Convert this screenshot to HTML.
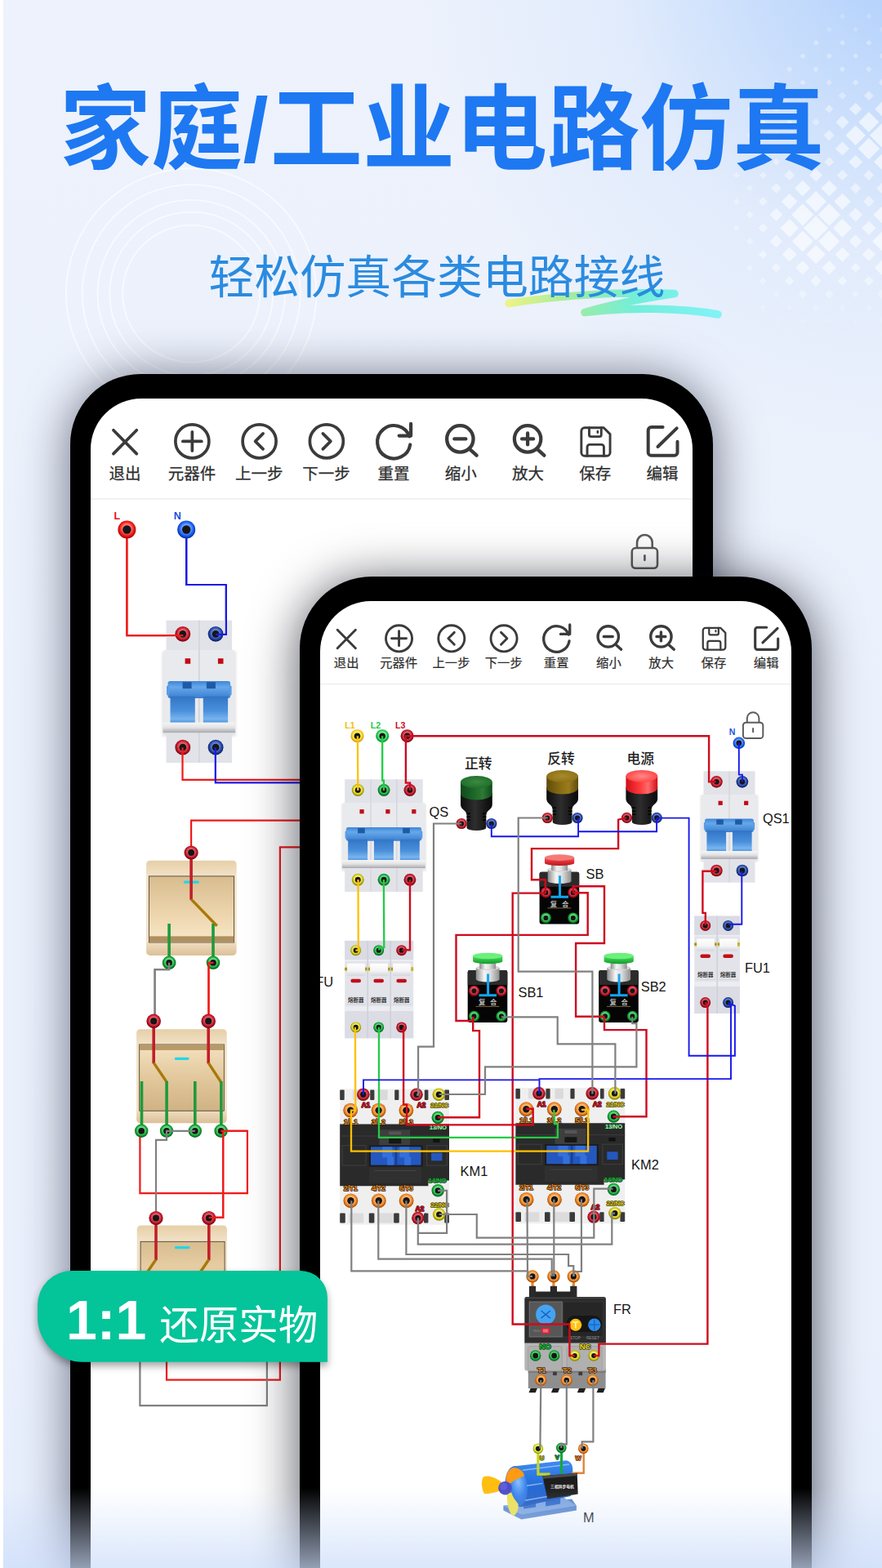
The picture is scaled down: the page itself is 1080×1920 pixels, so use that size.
<!DOCTYPE html><html lang="zh"><head><meta charset="utf-8"><title>circuit</title><style>
html,body{margin:0;padding:0}
html{width:1080px;height:1920px;overflow:hidden}
body{width:1080px;height:1920px;overflow:hidden;position:relative;font-family:"Liberation Sans",sans-serif;background:#edf2fc}
.abs{position:absolute}
#wrap{position:absolute;left:0;top:0;width:1080px;height:1920px;overflow:hidden;contain:paint}
#bg{left:0;top:0;width:1080px;height:1920px;
 background:
  radial-gradient(ellipse 600px 600px at 1110px -50px, rgba(174,206,252,1) 0%, rgba(192,217,252,.82) 30%, rgba(214,229,252,.5) 60%, rgba(237,242,252,0) 100%),
  linear-gradient(180deg,#edf2fc 0%,#ebf1fc 45%,#eaf0fc 85%,#e6eefc 100%);}
.phone{background:#000;}
#p1{left:86.1px;top:458.4px;width:787px;height:1600px;border-radius:86px;box-shadow:0 4px 56px 3px rgba(38,40,62,.6)}
#p2{left:367px;top:706.4px;width:627px;height:1400px;border-radius:88px;box-shadow:0 6px 60px 1px rgba(6,8,20,.68)}
.screen{background:#fff;overflow:hidden}
#s1{left:25px;top:30px;width:736.9px;height:1540px;border-radius:62px}
#s2{left:24.9px;top:30px;width:577.2px;height:1340px;border-radius:62px}
#fade{left:0;top:1822px;width:1080px;height:98px;background:linear-gradient(180deg,rgba(205,221,250,0) 0%,rgba(205,221,250,.72) 100%)}
#strip{left:0;top:0;width:4px;height:1920px;background:#fff}
svg{position:absolute;left:0;top:0;overflow:visible}
</style></head><body><div id="wrap">
<div id="bg" class="abs"></div>
<svg width="1080" height="1920" viewBox="0 0 1080 1920"><g fill="none" stroke="#fff" stroke-opacity="0.6" stroke-width="1.9"><circle cx="234.2" cy="359.6" r="84"/><circle cx="234.2" cy="359.6" r="100"/><circle cx="234.2" cy="359.6" r="114.7"/><circle cx="234.2" cy="359.6" r="133.5"/><circle cx="234.2" cy="359.6" r="153.3"/></g><g fill="#fff"><path d="M1031.5 16.4L1035.1 20.0L1031.5 23.6L1027.9 20.0Z" fill-opacity="0.20"/><path d="M1063.9 16.4L1067.5 20.0L1063.9 23.6L1060.3 20.0Z" fill-opacity="0.20"/><path d="M1015.3 32.6L1018.9 36.2L1015.3 39.8L1011.7 36.2Z" fill-opacity="0.20"/><path d="M1047.7 32.6L1051.3 36.2L1047.7 39.8L1044.1 36.2Z" fill-opacity="0.20"/><path d="M1080.1 32.6L1083.7 36.2L1080.1 39.8L1076.5 36.2Z" fill-opacity="0.20"/><path d="M999.1 48.8L1002.7 52.4L999.1 56.0L995.5 52.4Z" fill-opacity="0.33"/><path d="M1031.5 48.8L1035.1 52.4L1031.5 56.0L1027.9 52.4Z" fill-opacity="0.33"/><path d="M1063.9 48.8L1067.5 52.4L1063.9 56.0L1060.3 52.4Z" fill-opacity="0.33"/><path d="M982.9 65.0L986.5 68.6L982.9 72.2L979.3 68.6Z" fill-opacity="0.33"/><path d="M1015.3 65.0L1018.9 68.6L1015.3 72.2L1011.7 68.6Z" fill-opacity="0.34"/><path d="M1047.7 65.0L1051.3 68.6L1047.7 72.2L1044.1 68.6Z" fill-opacity="0.34"/><path d="M1080.1 65.0L1083.7 68.6L1080.1 72.2L1076.4 68.6Z" fill-opacity="0.34"/><path d="M966.7 81.2L970.3 84.8L966.7 88.4L963.1 84.8Z" fill-opacity="0.33"/><path d="M999.1 81.2L1002.7 84.8L999.1 88.4L995.5 84.8Z" fill-opacity="0.34"/><path d="M1031.5 81.1L1035.1 84.8L1031.5 88.5L1027.8 84.8Z" fill-opacity="0.34"/><path d="M1063.9 81.1L1067.6 84.8L1063.9 88.5L1060.1 84.8Z" fill-opacity="0.34"/><path d="M950.5 97.4L954.1 101.0L950.5 104.6L946.9 101.0Z" fill-opacity="0.33"/><path d="M982.9 97.4L986.5 101.0L982.9 104.6L979.2 101.0Z" fill-opacity="0.34"/><path d="M1015.3 97.2L1019.1 101.0L1015.3 104.8L1011.5 101.0Z" fill-opacity="0.34"/><path d="M1047.7 96.9L1051.8 101.0L1047.7 105.1L1043.5 101.0Z" fill-opacity="0.35"/><path d="M1080.1 96.7L1084.4 101.0L1080.1 105.3L1075.8 101.0Z" fill-opacity="0.36"/><path d="M934.3 113.6L937.9 117.2L934.3 120.8L930.7 117.2Z" fill-opacity="0.33"/><path d="M966.7 113.6L970.3 117.2L966.7 120.8L963.0 117.2Z" fill-opacity="0.34"/><path d="M999.1 113.3L1002.9 117.2L999.1 121.1L995.2 117.2Z" fill-opacity="0.34"/><path d="M1031.5 112.5L1036.2 117.2L1031.5 121.9L1026.7 117.2Z" fill-opacity="0.37"/><path d="M1063.9 111.4L1069.7 117.2L1063.9 123.0L1058.1 117.2Z" fill-opacity="0.45"/><path d="M918.1 129.8L921.7 133.4L918.1 137.0L914.5 133.4Z" fill-opacity="0.33"/><path d="M950.5 129.8L954.1 133.4L950.5 137.0L946.8 133.4Z" fill-opacity="0.34"/><path d="M982.9 129.6L986.7 133.4L982.9 137.2L979.0 133.4Z" fill-opacity="0.34"/><path d="M1015.3 128.3L1020.3 133.4L1015.3 138.5L1010.2 133.4Z" fill-opacity="0.42"/><path d="M1047.7 125.7L1055.4 133.4L1047.7 141.1L1039.9 133.4Z" fill-opacity="0.52"/><path d="M1080.1 124.4L1089.1 133.4L1080.1 142.4L1071.1 133.4Z" fill-opacity="0.56"/><path d="M934.3 146.0L937.9 149.6L934.3 153.2L930.6 149.6Z" fill-opacity="0.34"/><path d="M966.7 145.9L970.4 149.6L966.7 153.3L962.9 149.6Z" fill-opacity="0.34"/><path d="M999.1 144.9L1003.8 149.6L999.1 154.3L994.4 149.6Z" fill-opacity="0.37"/><path d="M1031.5 141.4L1039.7 149.6L1031.5 157.8L1023.3 149.6Z" fill-opacity="0.53"/><path d="M1063.9 137.1L1076.4 149.6L1063.9 162.1L1051.4 149.6Z" fill-opacity="0.62"/><path d="M918.1 162.2L921.7 165.8L918.1 169.4L914.4 165.8Z" fill-opacity="0.34"/><path d="M950.5 162.0L954.3 165.8L950.5 169.6L946.7 165.8Z" fill-opacity="0.34"/><path d="M982.9 161.7L987.0 165.8L982.9 169.9L978.8 165.8Z" fill-opacity="0.35"/><path d="M1015.3 159.1L1021.9 165.8L1015.3 172.5L1008.6 165.8Z" fill-opacity="0.48"/><path d="M1047.7 153.5L1060.0 165.8L1047.7 178.1L1035.4 165.8Z" fill-opacity="0.62"/><path d="M1080.1 150.8L1095.0 165.8L1080.1 180.8L1065.1 165.8Z" fill-opacity="0.62"/><path d="M934.3 178.2L938.1 182.0L934.3 185.8L930.4 182.0Z" fill-opacity="0.34"/><path d="M966.7 177.6L971.1 182.0L966.7 186.4L962.3 182.0Z" fill-opacity="0.36"/><path d="M999.1 177.2L1003.9 182.0L999.1 186.8L994.3 182.0Z" fill-opacity="0.37"/><path d="M1031.5 173.4L1040.1 182.0L1031.5 190.6L1022.8 182.0Z" fill-opacity="0.55"/><path d="M1063.9 168.7L1077.2 182.0L1063.9 195.3L1050.6 182.0Z" fill-opacity="0.62"/><path d="M918.1 194.4L921.9 198.2L918.1 202.0L914.3 198.2Z" fill-opacity="0.34"/><path d="M950.5 193.6L955.1 198.2L950.5 202.8L945.9 198.2Z" fill-opacity="0.37"/><path d="M982.9 192.4L988.7 198.2L982.9 204.0L977.0 198.2Z" fill-opacity="0.45"/><path d="M1015.3 192.3L1021.1 198.2L1015.3 204.1L1009.4 198.2Z" fill-opacity="0.45"/><path d="M1047.7 189.7L1056.2 198.2L1047.7 206.7L1039.1 198.2Z" fill-opacity="0.54"/><path d="M1080.1 188.2L1090.1 198.2L1080.1 208.2L1070.0 198.2Z" fill-opacity="0.60"/><path d="M901.9 210.7L905.6 214.4L901.9 218.1L898.1 214.4Z" fill-opacity="0.34"/><path d="M934.3 209.9L938.8 214.4L934.3 218.9L929.8 214.4Z" fill-opacity="0.36"/><path d="M966.7 207.9L973.2 214.4L966.7 220.9L960.1 214.4Z" fill-opacity="0.47"/><path d="M999.1 206.4L1007.1 214.4L999.1 222.4L991.0 214.4Z" fill-opacity="0.53"/><path d="M1031.5 207.7L1038.1 214.4L1031.5 221.1L1024.8 214.4Z" fill-opacity="0.48"/><path d="M1063.9 207.9L1070.3 214.4L1063.9 220.9L1057.4 214.4Z" fill-opacity="0.47"/><path d="M918.1 226.4L922.2 230.6L918.1 234.8L913.9 230.6Z" fill-opacity="0.35"/><path d="M950.5 224.2L956.8 230.6L950.5 237.0L944.1 230.6Z" fill-opacity="0.47"/><path d="M982.9 220.8L992.6 230.6L982.9 240.4L973.1 230.6Z" fill-opacity="0.59"/><path d="M1015.3 220.7L1025.2 230.6L1015.3 240.5L1005.4 230.6Z" fill-opacity="0.59"/><path d="M1047.7 224.0L1054.2 230.6L1047.7 237.2L1041.1 230.6Z" fill-opacity="0.48"/><path d="M1080.1 223.8L1086.8 230.6L1080.1 237.4L1073.3 230.6Z" fill-opacity="0.48"/><path d="M901.9 242.9L905.7 246.8L901.9 250.7L898.0 246.8Z" fill-opacity="0.34"/><path d="M934.3 241.3L939.8 246.8L934.3 252.3L928.8 246.8Z" fill-opacity="0.44"/><path d="M966.7 237.0L976.5 246.8L966.7 256.6L956.9 246.8Z" fill-opacity="0.59"/><path d="M999.1 233.9L1012.0 246.8L999.1 259.7L986.1 246.8Z" fill-opacity="0.62"/><path d="M1031.5 236.7L1041.6 246.8L1031.5 256.9L1021.4 246.8Z" fill-opacity="0.60"/><path d="M1063.9 240.1L1070.6 246.8L1063.9 253.5L1057.1 246.8Z" fill-opacity="0.48"/><path d="M918.1 258.5L922.6 263.0L918.1 267.5L913.5 263.0Z" fill-opacity="0.36"/><path d="M950.5 254.9L958.5 263.0L950.5 271.1L942.4 263.0Z" fill-opacity="0.53"/><path d="M982.9 249.5L996.4 263.0L982.9 276.5L969.3 263.0Z" fill-opacity="0.62"/><path d="M1015.3 249.2L1029.0 263.0L1015.3 276.8L1001.5 263.0Z" fill-opacity="0.62"/><path d="M1047.7 254.6L1056.1 263.0L1047.7 271.4L1039.3 263.0Z" fill-opacity="0.54"/><path d="M1080.1 252.5L1090.5 263.0L1080.1 273.5L1069.6 263.0Z" fill-opacity="0.61"/><path d="M901.9 275.3L905.8 279.2L901.9 283.1L897.9 279.2Z" fill-opacity="0.35"/><path d="M934.3 273.3L940.2 279.2L934.3 285.1L928.4 279.2Z" fill-opacity="0.45"/><path d="M966.7 268.0L977.9 279.2L966.7 290.4L955.5 279.2Z" fill-opacity="0.62"/><path d="M999.1 264.2L1014.1 279.2L999.1 294.2L984.0 279.2Z" fill-opacity="0.62"/><path d="M1031.5 267.7L1043.0 279.2L1031.5 290.7L1019.9 279.2Z" fill-opacity="0.62"/><path d="M1063.9 270.5L1072.6 279.2L1063.9 287.9L1055.2 279.2Z" fill-opacity="0.55"/><path d="M918.1 290.9L922.5 295.4L918.1 299.9L913.6 295.4Z" fill-opacity="0.36"/><path d="M950.5 287.6L958.2 295.4L950.5 303.2L942.7 295.4Z" fill-opacity="0.52"/><path d="M982.9 282.5L995.7 295.4L982.9 308.3L970.0 295.4Z" fill-opacity="0.62"/><path d="M1015.3 282.3L1028.3 295.4L1015.3 308.5L1002.2 295.4Z" fill-opacity="0.62"/><path d="M1047.7 287.3L1055.7 295.4L1047.7 303.5L1039.6 295.4Z" fill-opacity="0.53"/><path d="M1080.1 283.5L1092.0 295.4L1080.1 307.3L1068.1 295.4Z" fill-opacity="0.62"/><path d="M934.3 306.4L939.5 311.6L934.3 316.8L929.0 311.6Z" fill-opacity="0.43"/><path d="M966.7 302.6L975.7 311.6L966.7 320.6L957.7 311.6Z" fill-opacity="0.56"/><path d="M999.1 299.9L1010.8 311.6L999.1 323.3L987.4 311.6Z" fill-opacity="0.62"/><path d="M1031.5 302.4L1040.7 311.6L1031.5 320.8L1022.2 311.6Z" fill-opacity="0.57"/><path d="M1063.9 303.4L1072.1 311.6L1063.9 319.8L1055.7 311.6Z" fill-opacity="0.53"/><path d="M918.1 323.7L922.1 327.8L918.1 331.9L914.0 327.8Z" fill-opacity="0.35"/><path d="M950.5 322.0L956.3 327.8L950.5 333.6L944.6 327.8Z" fill-opacity="0.45"/><path d="M982.9 319.2L991.5 327.8L982.9 336.4L974.3 327.8Z" fill-opacity="0.55"/><path d="M1015.3 319.1L1024.0 327.8L1015.3 336.5L1006.6 327.8Z" fill-opacity="0.55"/><path d="M1047.7 321.8L1053.7 327.8L1047.7 333.8L1041.7 327.8Z" fill-opacity="0.46"/><path d="M1080.1 318.6L1089.3 327.8L1080.1 337.0L1070.8 327.8Z" fill-opacity="0.57"/><path d="M934.3 339.7L938.5 344.0L934.3 348.3L930.0 344.0Z" fill-opacity="0.34"/><path d="M966.7 338.2L972.5 344.0L966.7 349.8L960.9 344.0Z" fill-opacity="0.43"/><path d="M999.1 337.1L1006.0 344.0L999.1 350.9L992.1 344.0Z" fill-opacity="0.46"/><path d="M1031.5 338.1L1037.4 344.0L1031.5 349.9L1025.6 344.0Z" fill-opacity="0.43"/><path d="M1063.9 338.1L1069.8 344.0L1063.9 349.9L1057.9 344.0Z" fill-opacity="0.43"/><path d="M950.5 355.9L954.8 360.2L950.5 364.5L946.2 360.2Z" fill-opacity="0.27"/><path d="M982.9 355.0L988.0 360.2L982.9 365.4L977.7 360.2Z" fill-opacity="0.32"/><path d="M1015.3 355.0L1020.5 360.2L1015.3 365.4L1010.1 360.2Z" fill-opacity="0.32"/><path d="M1047.7 355.8L1052.0 360.2L1047.7 364.6L1043.3 360.2Z" fill-opacity="0.27"/><path d="M1080.1 354.5L1085.8 360.2L1080.1 365.9L1074.3 360.2Z" fill-opacity="0.33"/><path d="M934.3 372.6L938.0 376.4L934.3 380.2L930.5 376.4Z" fill-opacity="0.19"/><path d="M966.7 372.3L970.8 376.4L966.7 380.5L962.5 376.4Z" fill-opacity="0.19"/><path d="M999.1 372.0L1003.5 376.4L999.1 380.8L994.7 376.4Z" fill-opacity="0.20"/><path d="M1031.5 372.3L1035.6 376.4L1031.5 380.5L1027.3 376.4Z" fill-opacity="0.19"/><path d="M1063.9 372.1L1068.1 376.4L1063.9 380.7L1059.6 376.4Z" fill-opacity="0.19"/><path d="M950.5 388.9L954.2 392.6L950.5 396.3L946.7 392.6Z" fill-opacity="0.12"/><path d="M982.9 388.7L986.8 392.6L982.9 396.5L979.0 392.6Z" fill-opacity="0.12"/><path d="M1015.3 388.7L1019.2 392.6L1015.3 396.5L1011.4 392.6Z" fill-opacity="0.12"/><path d="M1047.7 388.9L1051.4 392.6L1047.7 396.3L1043.9 392.6Z" fill-opacity="0.12"/><path d="M1080.1 388.5L1084.1 392.6L1080.1 396.7L1076.0 392.6Z" fill-opacity="0.12"/><path d="M966.7 405.1L970.3 408.8L966.7 412.5L963.0 408.8Z" fill-opacity="0.05"/><path d="M999.1 405.1L1002.8 408.8L999.1 412.5L995.4 408.8Z" fill-opacity="0.05"/><path d="M1031.5 405.1L1035.1 408.8L1031.5 412.5L1027.8 408.8Z" fill-opacity="0.05"/><path d="M1063.9 405.1L1067.6 408.8L1063.9 412.5L1060.2 408.8Z" fill-opacity="0.05"/></g><defs><linearGradient id="sw" gradientUnits="userSpaceOnUse" x1="620" x2="885" y1="0" y2="0"><stop offset="0" stop-color="#eef47c"/><stop offset="0.3" stop-color="#9cec9c"/><stop offset="0.6" stop-color="#6ceed8"/><stop offset="1" stop-color="#7df3f8"/></linearGradient></defs>
<path d="M623 371.5 C690 361 765 357 826 359.5 C790 365 750 372 716 382.5 C770 376 835 377 879 385" stroke="url(#sw)" stroke-width="9.5" stroke-linecap="round" stroke-linejoin="round" fill="none" opacity="0.95"/><text x="73" y="198" font-size="112" font-weight="bold" fill="#1d78f2" font-family="'Liberation Sans','Noto Sans CJK SC',sans-serif">家庭</text><text x="297.5" y="198" font-size="112" font-weight="bold" fill="#1d78f2" font-family="'Liberation Sans','Noto Sans CJK SC',sans-serif">/</text><text x="330.7" y="198.4" font-size="113.2" font-weight="bold" fill="#1d78f2" font-family="'Liberation Sans','Noto Sans CJK SC',sans-serif">工业电路仿真</text><text x="255.6" y="358.6" font-size="55.9" fill="#2a8be0" font-family="'Liberation Sans','Noto Sans CJK SC',sans-serif">轻松仿真各类电路接线</text></svg>
<div id="p1" class="abs phone"><div id="s1" class="abs screen">
<svg width="737" height="1440" viewBox="111.1 488.4 737 1440"><g fill="none" stroke="#3b3b3b" stroke-width="3.7" stroke-linecap="round" stroke-linejoin="round"><g transform="translate(153.20,540.80) scale(1.0)"><path d="M-14.2 -13.6L14.2 15.2M14.2 -13.6L-14.2 15.2"/></g><g transform="translate(235.45,540.80) scale(1.0)"><circle r="20.5"/><path d="M-11.5 0H11.5M0 -11.5V11.5"/></g><g transform="translate(317.70,540.80) scale(1.0)"><circle r="20.5"/><path d="M4.5 -9.5L-5 0L4.5 9.5"/></g><g transform="translate(399.95,540.80) scale(1.0)"><circle r="20.5"/><path d="M-4.5 -9.5L5 0L-4.5 9.5"/></g><g transform="translate(482.20,540.80) scale(1.0)"><g stroke-width="4.2"><path d="M19.18 -6.01A20.2 20.2 0 1 0 20.15 4.06"/><path d="M21 -21.5V-6.8H6.6"/></g></g><g transform="translate(564.45,540.80) scale(1.0)"><g stroke-width="4.3"><circle cx="-1" cy="-3" r="16.2"/><path d="M-8 -3H6M11.5 10.2L19.3 17.2"/></g></g><g transform="translate(646.70,540.80) scale(1.0)"><g stroke-width="4.3"><circle cx="-0.5" cy="-3" r="16.2"/><path d="M-7.5 -3H6.5M-0.5 -10V4M12 10.2L19.8 17.2"/></g></g><g transform="translate(728.95,540.80) scale(1.0)"><g stroke-width="2.9"><path d="M-17 -12.6a4 4 0 0 1 4 -4H10.4L18.2 -8.8V13.8a4 4 0 0 1 -4 4H-13a4 4 0 0 1 -4 -4Z"/><path d="M-7.4 -16.6V-8.2a2.4 2.4 0 0 0 2.4 2.4H5a2.4 2.4 0 0 0 2.4 -2.4V-16.6M-9.8 17.8V7a3 3 0 0 1 3 -3H7.6a3 3 0 0 1 3 3V17.8"/><path d="M3 -12.4V-10.6" stroke-width="2.6"/></g></g><g transform="translate(811.20,540.80) scale(1.0)"><g stroke-width="4"><path d="M0.5 -17.3H-13.6a3.8 3.8 0 0 0 -3.8 3.8V13.6a3.8 3.8 0 0 0 3.8 3.8H14.6a3.8 3.8 0 0 0 3.8 -3.8V0.4"/><path d="M-5.6 6.6L17.6 -16"/></g></g></g><g font-size="19.5" fill="#2e2e2e" stroke="#2e2e2e" stroke-width="0.25" font-family="'Liberation Sans','Noto Sans CJK SC',sans-serif"><text x="133.5" y="587.1">退出</text><text x="205.81" y="587.1">元器件</text><text x="288.06" y="587.1">上一步</text><text x="370.31" y="587.1">下一步</text><text x="462.5" y="587.1">重置</text><text x="544.75" y="587.1">缩小</text><text x="627" y="587.1">放大</text><text x="709.25" y="587.1">保存</text><text x="791.5" y="587.1">编辑</text></g><rect x="111" y="610.6" width="740" height="1.3" fill="#ececec"/><defs><radialGradient id="t_red" cx=".5" cy=".45" r=".5"><stop offset=".48" stop-color="#ff7a70"/><stop offset=".78" stop-color="#f41a1a"/><stop offset="1" stop-color="#b80808"/></radialGradient><radialGradient id="t_dred" cx=".5" cy=".45" r=".5"><stop offset=".48" stop-color="#e8606c"/><stop offset=".78" stop-color="#c4182a"/><stop offset="1" stop-color="#7e0814"/></radialGradient><radialGradient id="t_blue" cx=".5" cy=".45" r=".5"><stop offset=".48" stop-color="#6aa0ff"/><stop offset=".78" stop-color="#1c60f4"/><stop offset="1" stop-color="#0a38b0"/></radialGradient><radialGradient id="t_dblue" cx=".5" cy=".45" r=".5"><stop offset=".48" stop-color="#6484d0"/><stop offset=".78" stop-color="#2444a8"/><stop offset="1" stop-color="#0e2468"/></radialGradient><radialGradient id="t_green" cx=".5" cy=".45" r=".5"><stop offset=".48" stop-color="#6fe08a"/><stop offset=".78" stop-color="#14a838"/><stop offset="1" stop-color="#086820"/></radialGradient><radialGradient id="t_yellow" cx=".5" cy=".45" r=".5"><stop offset=".48" stop-color="#f8f27a"/><stop offset=".78" stop-color="#d6cb16"/><stop offset="1" stop-color="#8e8600"/></radialGradient><radialGradient id="t_orange" cx=".5" cy=".45" r=".5"><stop offset=".48" stop-color="#ffbe78"/><stop offset=".78" stop-color="#f08424"/><stop offset="1" stop-color="#a85208"/></radialGradient><radialGradient id="t_lyellow" cx=".5" cy=".45" r=".5"><stop offset=".48" stop-color="#fff27a"/><stop offset=".78" stop-color="#ffd21c"/><stop offset="1" stop-color="#c89a00"/></radialGradient><radialGradient id="t_lgreen" cx=".5" cy=".45" r=".5"><stop offset=".48" stop-color="#8ff0a0"/><stop offset=".78" stop-color="#22d050"/><stop offset="1" stop-color="#0a9030"/></radialGradient><radialGradient id="t_ylg" cx=".5" cy=".45" r=".5"><stop offset=".48" stop-color="#f6fa8a"/><stop offset=".78" stop-color="#d4e01e"/><stop offset="1" stop-color="#8e9a04"/></radialGradient><linearGradient id="hb" x1="0" x2="0" y1="0" y2="1"><stop offset="0" stop-color="#3f86d8"/><stop offset=".35" stop-color="#66a8ea"/><stop offset="1" stop-color="#3a7fd0"/></linearGradient><linearGradient id="hl" x1="0" x2="0" y1="0" y2="1"><stop offset="0" stop-color="#3275c6"/><stop offset=".55" stop-color="#4a90dc"/><stop offset=".85" stop-color="#78b4ee"/><stop offset="1" stop-color="#4f94de"/></linearGradient><linearGradient id="ledge" x1="0" x2="0" y1="0" y2="1"><stop offset="0" stop-color="#f6f6f6"/><stop offset=".5" stop-color="#e2e2e4"/><stop offset="1" stop-color="#a8a8ac"/></linearGradient><linearGradient id="swp" x1="0" x2="0" y1="0" y2="1"><stop offset="0" stop-color="#d8bc8e"/><stop offset=".55" stop-color="#ecd4ac"/><stop offset="1" stop-color="#f8e8c8"/></linearGradient><linearGradient id="swp2" x1="0" x2="0" y1="0" y2="1"><stop offset="0" stop-color="#f4e2c0"/><stop offset=".5" stop-color="#e2c89c"/><stop offset="1" stop-color="#d0b284"/></linearGradient><linearGradient id="swo" x1="0" x2="0" y1="0" y2="1"><stop offset="0" stop-color="#e6cfa8"/><stop offset=".15" stop-color="#f1e0c4"/><stop offset=".85" stop-color="#f1e0c4"/><stop offset="1" stop-color="#dcc098"/></linearGradient><filter id="b1" x="-20%" y="-20%" width="140%" height="140%"><feGaussianBlur stdDeviation="1.6"/></filter></defs><path d="M155.5 649.0L155.5 778.6L224.4 778.6" fill="none" stroke="#f01a1a" stroke-width="2.2" stroke-linejoin="miter" /><path d="M228.3 649.0L228.3 716.4L277.0 716.4L277.0 777.2L264.4 777.2" fill="none" stroke="#1a1ae6" stroke-width="2.2" stroke-linejoin="miter" /><g transform="translate(203.60,760.00) scale(1.0)"><rect x="-5" y="38" width="90.6" height="104" fill="#000" opacity=".10" filter="url(#b1)"/><rect x="0" y="0" width="80.6" height="37" fill="#e2e3e8"/><rect x="0" y="137" width="80.6" height="37.4" fill="#e2e3e8"/><rect x="-3" y="36.6" width="86.6" height="101" fill="#e9eaee"/><rect x="39.5" y="0" width="1.6" height="174.4" fill="#d2d3d9"/><rect x="23.1" y="46.6" width="6.6" height="6.6" fill="#c40a14"/><rect x="63.4" y="46.6" width="6.6" height="6.6" fill="#c40a14"/><rect x="2" y="74.4" width="76.6" height="21" rx="3" fill="url(#hb)"/><rect x="0.5" y="80" width="3" height="12" rx="1.5" fill="#5a9ce4"/><rect x="77.1" y="80" width="3" height="12" rx="1.5" fill="#5a9ce4"/><rect x="5.0" y="93" width="30.3" height="32.5" fill="url(#hl)"/><rect x="45.3" y="93" width="30.3" height="32.5" fill="url(#hl)"/><rect x="20.1" y="75.6" width="11" height="8" fill="#1f5aa8"/><rect x="49.4" y="75.6" width="11" height="8" fill="#1f5aa8"/><rect x="-4" y="125" width="88.6" height="12.6" fill="url(#ledge)"/><circle cx="20.3" cy="16.7" r="9.4" fill="url(#t_dred)"/><circle cx="20.3" cy="16.7" r="4.4" fill="#161616"/><circle cx="20.3" cy="155.6" r="9.4" fill="url(#t_dred)"/><circle cx="20.3" cy="155.6" r="4.4" fill="#161616"/><circle cx="60.6" cy="16.7" r="9.4" fill="url(#t_dblue)"/><circle cx="60.6" cy="16.7" r="4.4" fill="#161616"/><circle cx="60.6" cy="155.6" r="9.4" fill="url(#t_dblue)"/><circle cx="60.6" cy="155.6" r="4.4" fill="#161616"/></g><path d="M155.5 649.0L155.5 778.6L224.4 778.6" fill="none" stroke="#f01a1a" stroke-width="2.2" stroke-linejoin="miter" /><path d="M228.3 649.0L228.3 716.4L277.0 716.4L277.0 777.2L264.4 777.2" fill="none" stroke="#1a1ae6" stroke-width="2.2" stroke-linejoin="miter" /><circle cx="155.5" cy="648.9" r="11.0" fill="url(#t_red)"/><circle cx="155.5" cy="648.9" r="5.2" fill="#161616"/><circle cx="228.3" cy="648.9" r="11.0" fill="url(#t_blue)"/><circle cx="228.3" cy="648.9" r="5.2" fill="#161616"/><text x="139.5" y="636.0" font-size="12.5" fill="#e01414" font-weight="bold" text-anchor="start" font-family="Liberation Sans, sans-serif" >L</text><text x="212.8" y="636.0" font-size="12.5" fill="#1a4ee0" font-weight="bold" text-anchor="start" font-family="Liberation Sans, sans-serif" >N</text><path d="M223.6 915.6L223.6 955.3L380.0 955.3" fill="none" stroke="#f01a1a" stroke-width="2.2" stroke-linejoin="miter" /><path d="M263.9 915.6L263.9 958.8L380.0 958.8" fill="none" stroke="#1a1ae6" stroke-width="2.2" stroke-linejoin="miter" /><path d="M234.2 1044.0L234.2 1005.0L380.0 1005.0" fill="none" stroke="#f01a1a" stroke-width="2.2" stroke-linejoin="miter" /><path d="M380.0 1037.8L343.0 1037.8L343.0 1690.0L204.1 1690.0L204.1 1640.0" fill="none" stroke="#f01a1a" stroke-width="2.2" stroke-linejoin="miter" /><rect x="179.2" y="1054.2" width="110.5" height="116.1" rx="4.5" fill="url(#swo)"/><rect x="182.5" y="1073.3" width="104.2" height="81.1" fill="url(#swp)" stroke="#3a352c" stroke-width=".8"/><rect x="182.9" y="1146.8" width="103.4" height="7.2" fill="#b09060"/><rect x="225.0" y="1079.0" width="19.0" height="3.2" rx="1.6" fill="#22d6e8"/><path d="M234.2 1044.4L234.2 1102.2" fill="none" stroke="#c21e2a" stroke-width="3.6" stroke-linejoin="miter" /><path d="M234.2 1101.5L265.8 1134.2" fill="none" stroke="#a8780a" stroke-width="3.4" stroke-linejoin="miter" /><path d="M207.2 1131.4L207.2 1179.0" fill="none" stroke="#1f9a3c" stroke-width="3.6" stroke-linejoin="miter" /><path d="M261.1 1131.4L261.1 1179.0" fill="none" stroke="#1f9a3c" stroke-width="3.6" stroke-linejoin="miter" /><path d="M207.2 1179.2L207.2 1187.5L189.7 1187.5L189.7 1250.0" fill="none" stroke="#808080" stroke-width="2.2" stroke-linejoin="miter" /><path d="M261.1 1179.2L255.6 1179.2L255.6 1250.0" fill="none" stroke="#f01a1a" stroke-width="2.2" stroke-linejoin="miter" /><circle cx="234.2" cy="1044.4" r="8.6" fill="url(#t_dred)"/><circle cx="234.2" cy="1044.4" r="4.0" fill="#161616"/><circle cx="207.2" cy="1179.2" r="8.3" fill="url(#t_green)"/><circle cx="207.2" cy="1179.2" r="3.9" fill="#161616"/><circle cx="261.1" cy="1179.2" r="8.3" fill="url(#t_green)"/><circle cx="261.1" cy="1179.2" r="3.9" fill="#161616"/><path d="M207.2 1179.2L207.2 1187.5L189.7 1187.5L189.7 1250.0" fill="none" stroke="#808080" stroke-width="2.2" stroke-linejoin="miter" /><path d="M261.6 1179.2L255.6 1179.2L255.6 1250.0" fill="none" stroke="#f01a1a" stroke-width="2.2" stroke-linejoin="miter" /><rect x="167.2" y="1260.6" width="110.6" height="115.0" rx="4.5" fill="url(#swo)"/><rect x="170.8" y="1279.4" width="103.6" height="81.2" fill="url(#swp2)" stroke="#3a352c" stroke-width=".8"/><rect x="171.2" y="1279.8" width="102.8" height="6.5" fill="#b89a68"/><rect x="213.9" y="1295.1" width="17.7" height="3.2" rx="1.6" fill="#22d6e8"/><path d="M188.3 1250.8L188.3 1302.5" fill="none" stroke="#c21e2a" stroke-width="3.6" stroke-linejoin="miter" /><path d="M255.3 1250.8L255.3 1302.5" fill="none" stroke="#c21e2a" stroke-width="3.6" stroke-linejoin="miter" /><path d="M188.3 1301.8L204.2 1325.3" fill="none" stroke="#a8780a" stroke-width="3.4" stroke-linejoin="miter" /><path d="M255.3 1301.8L270.6 1325.3" fill="none" stroke="#a8780a" stroke-width="3.4" stroke-linejoin="miter" /><path d="M173.6 1324.4L173.6 1385.0" fill="none" stroke="#1f9a3c" stroke-width="3.6" stroke-linejoin="miter" /><path d="M204.2 1324.4L204.2 1385.0" fill="none" stroke="#1f9a3c" stroke-width="3.6" stroke-linejoin="miter" /><path d="M238.9 1324.4L238.9 1385.0" fill="none" stroke="#1f9a3c" stroke-width="3.6" stroke-linejoin="miter" /><path d="M271.0 1324.4L271.0 1385.0" fill="none" stroke="#1f9a3c" stroke-width="3.6" stroke-linejoin="miter" /><circle cx="188.3" cy="1250.8" r="8.8" fill="url(#t_dred)"/><circle cx="188.3" cy="1250.8" r="4.1" fill="#161616"/><circle cx="255.3" cy="1250.8" r="8.8" fill="url(#t_dred)"/><circle cx="255.3" cy="1250.8" r="4.1" fill="#161616"/><path d="M173.3 1385.2L171.5 1385.2L171.5 1461.5L303.0 1461.5L303.0 1385.2L270.7 1385.2" fill="none" stroke="#f01a1a" stroke-width="2.2" stroke-linejoin="miter" /><path d="M273.3 1385.2L273.3 1491.3L255.9 1491.3" fill="none" stroke="#f01a1a" stroke-width="2.2" stroke-linejoin="miter" /><circle cx="173.3" cy="1385.2" r="8.2" fill="url(#t_green)"/><circle cx="173.3" cy="1385.2" r="3.9" fill="#161616"/><circle cx="204.1" cy="1385.2" r="8.2" fill="url(#t_green)"/><circle cx="204.1" cy="1385.2" r="3.9" fill="#161616"/><circle cx="238.9" cy="1385.2" r="8.2" fill="url(#t_green)"/><circle cx="238.9" cy="1385.2" r="3.9" fill="#161616"/><circle cx="270.7" cy="1385.2" r="8.2" fill="url(#t_green)"/><circle cx="270.7" cy="1385.2" r="3.9" fill="#161616"/><path d="M238.9 1385.2L204.1 1385.2L204.1 1396.3L191.1 1396.3L191.1 1491.0" fill="none" stroke="#808080" stroke-width="2.2" stroke-linejoin="miter" /><path d="M270.7 1385.2L303.0 1385.2" fill="none" stroke="#f01a1a" stroke-width="2.2" stroke-linejoin="miter" /><path d="M270.7 1385.2L273.3 1385.2L273.3 1491.3L255.9 1491.3" fill="none" stroke="#f01a1a" stroke-width="2.2" stroke-linejoin="miter" /><rect x="167.8" y="1501.0" width="110.3" height="116.0" rx="4.5" fill="url(#swo)"/><rect x="172.2" y="1520.7" width="103.0" height="79.3" fill="url(#swp)" stroke="#3a352c" stroke-width=".8"/><rect x="172.6" y="1592.4" width="102.2" height="7.2" fill="#b09060"/><rect x="214.0" y="1526.5" width="18.6" height="3.2" rx="1.6" fill="#22d6e8"/><path d="M191.1 1491.9L191.1 1543.4" fill="none" stroke="#c21e2a" stroke-width="3.6" stroke-linejoin="miter" /><path d="M191.1 1542.6L175.1 1566.0" fill="none" stroke="#a8780a" stroke-width="3.4" stroke-linejoin="miter" /><path d="M255.9 1491.9L255.9 1543.4" fill="none" stroke="#c21e2a" stroke-width="3.6" stroke-linejoin="miter" /><path d="M255.9 1542.6L239.9 1566.0" fill="none" stroke="#a8780a" stroke-width="3.4" stroke-linejoin="miter" /><circle cx="191.1" cy="1491.9" r="8.6" fill="url(#t_dred)"/><circle cx="191.1" cy="1491.9" r="4.0" fill="#161616"/><circle cx="255.9" cy="1491.9" r="8.6" fill="url(#t_dred)"/><circle cx="255.9" cy="1491.9" r="4.0" fill="#161616"/><path d="M255.9 1491.3L273.3 1491.3" fill="none" stroke="#f01a1a" stroke-width="2.2" stroke-linejoin="miter" /><path d="M171.5 1640.0L171.5 1721.5L327.0 1721.5L327.0 1640.0" fill="none" stroke="#808080" stroke-width="2.2" stroke-linejoin="miter" /><g transform="translate(772.6,654) scale(1.28)"><g fill="none" stroke="#5c5c5c" stroke-width="2"><rect x="1.0" y="13.6" width="24.4" height="19.4" rx="3.6"/><path d="M5.9 13.6V8.4a7.3 7.3 0 0 1 14.6 0V13.6"/><path d="M13.2 20.8V25.2" stroke-linecap="round"/></g></g></svg>
</div></div>
<div id="p2" class="abs phone"><div id="s2" class="abs screen">
<svg width="578" height="1200" viewBox="391.9 736.4 578 1200"><g fill="none" stroke="#3b3b3b" stroke-width="3.7" stroke-linecap="round" stroke-linejoin="round"><g transform="translate(424.20,782.20) scale(0.782)"><path d="M-14.2 -13.6L14.2 15.2M14.2 -13.6L-14.2 15.2"/></g><g transform="translate(488.45,782.20) scale(0.782)"><circle r="20.5"/><path d="M-11.5 0H11.5M0 -11.5V11.5"/></g><g transform="translate(552.70,782.20) scale(0.782)"><circle r="20.5"/><path d="M4.5 -9.5L-5 0L4.5 9.5"/></g><g transform="translate(616.95,782.20) scale(0.782)"><circle r="20.5"/><path d="M-4.5 -9.5L5 0L-4.5 9.5"/></g><g transform="translate(681.20,782.20) scale(0.782)"><g stroke-width="4.2"><path d="M19.18 -6.01A20.2 20.2 0 1 0 20.15 4.06"/><path d="M21 -21.5V-6.8H6.6"/></g></g><g transform="translate(745.45,782.20) scale(0.782)"><g stroke-width="4.3"><circle cx="-1" cy="-3" r="16.2"/><path d="M-8 -3H6M11.5 10.2L19.3 17.2"/></g></g><g transform="translate(809.70,782.20) scale(0.782)"><g stroke-width="4.3"><circle cx="-0.5" cy="-3" r="16.2"/><path d="M-7.5 -3H6.5M-0.5 -10V4M12 10.2L19.8 17.2"/></g></g><g transform="translate(873.95,782.20) scale(0.782)"><g stroke-width="2.9"><path d="M-17 -12.6a4 4 0 0 1 4 -4H10.4L18.2 -8.8V13.8a4 4 0 0 1 -4 4H-13a4 4 0 0 1 -4 -4Z"/><path d="M-7.4 -16.6V-8.2a2.4 2.4 0 0 0 2.4 2.4H5a2.4 2.4 0 0 0 2.4 -2.4V-16.6M-9.8 17.8V7a3 3 0 0 1 3 -3H7.6a3 3 0 0 1 3 3V17.8"/><path d="M3 -12.4V-10.6" stroke-width="2.6"/></g></g><g transform="translate(938.20,782.20) scale(0.782)"><g stroke-width="4"><path d="M0.5 -17.3H-13.6a3.8 3.8 0 0 0 -3.8 3.8V13.6a3.8 3.8 0 0 0 3.8 3.8H14.6a3.8 3.8 0 0 0 3.8 -3.8V0.4"/><path d="M-5.6 6.6L17.6 -16"/></g></g></g><g font-size="15.3" fill="#2e2e2e" stroke="#2e2e2e" stroke-width="0.2" font-family="'Liberation Sans','Noto Sans CJK SC',sans-serif"><text x="408.75" y="817.8">退出</text><text x="465.19" y="817.8">元器件</text><text x="529.44" y="817.8">上一步</text><text x="593.69" y="817.8">下一步</text><text x="665.75" y="817.8">重置</text><text x="730" y="817.8">缩小</text><text x="794.25" y="817.8">放大</text><text x="858.5" y="817.8">保存</text><text x="922.75" y="817.8">编辑</text></g><rect x="392" y="837.5" width="580" height="1.2" fill="#ececec"/><defs><linearGradient id="ld_g" x1="0" x2="1" y1="0" y2="0"><stop offset="0" stop-color="#0f4a1a"/><stop offset=".45" stop-color="#1e6a2a"/><stop offset=".7" stop-color="#2c7a34"/><stop offset="1" stop-color="#0f4a1a"/></linearGradient><radialGradient id="lt_g" cx=".5" cy=".5" r=".6"><stop offset="0" stop-color="#3a8a40"/><stop offset="1" stop-color="#1e6a2a"/></radialGradient><linearGradient id="ld_y" x1="0" x2="1" y1="0" y2="0"><stop offset="0" stop-color="#5e4a0a"/><stop offset=".45" stop-color="#8a6e14"/><stop offset=".7" stop-color="#9a7c1c"/><stop offset="1" stop-color="#5e4a0a"/></linearGradient><radialGradient id="lt_y" cx=".5" cy=".5" r=".6"><stop offset="0" stop-color="#a88a2a"/><stop offset="1" stop-color="#8a6e14"/></radialGradient><linearGradient id="ld_r" x1="0" x2="1" y1="0" y2="0"><stop offset="0" stop-color="#d01018"/><stop offset=".45" stop-color="#ff3a3c"/><stop offset=".7" stop-color="#ff6a6a"/><stop offset="1" stop-color="#d01018"/></linearGradient><radialGradient id="lt_r" cx=".5" cy=".5" r=".6"><stop offset="0" stop-color="#ff8a88"/><stop offset="1" stop-color="#ff3a3c"/></radialGradient><linearGradient id="lbody" x1="0" x2="1" y1="0" y2="0"><stop offset="0" stop-color="#0c0c0c"/><stop offset=".45" stop-color="#2e2e2e"/><stop offset="1" stop-color="#080808"/></linearGradient><linearGradient id="silver" x1="0" x2="1" y1="0" y2="0"><stop offset="0" stop-color="#8a8a8a"/><stop offset=".35" stop-color="#f4f4f4"/><stop offset=".6" stop-color="#e0e0e0"/><stop offset="1" stop-color="#8e8e8e"/></linearGradient><linearGradient id="capr" x1="0" x2="0" y1="0" y2="1"><stop offset="0" stop-color="#f06060"/><stop offset=".5" stop-color="#e03036"/><stop offset="1" stop-color="#b81820"/></linearGradient><linearGradient id="capg" x1="0" x2="0" y1="0" y2="1"><stop offset="0" stop-color="#58e068"/><stop offset=".5" stop-color="#2cc044"/><stop offset="1" stop-color="#189830"/></linearGradient><linearGradient id="lever" x1="0" x2="0" y1="0" y2="1"><stop offset="0" stop-color="#ffffff"/><stop offset=".6" stop-color="#f4f4f6"/><stop offset="1" stop-color="#d4d5dc"/></linearGradient></defs><g transform="translate(422.10,954.70) scale(0.79)"><rect x="-5" y="38" width="130.89999999999998" height="104" fill="#000" opacity=".10" filter="url(#b1)"/><rect x="0" y="0" width="120.89999999999999" height="37" fill="#e2e3e8"/><rect x="0" y="137" width="120.89999999999999" height="37.4" fill="#e2e3e8"/><rect x="-3" y="36.6" width="126.89999999999999" height="101" fill="#e9eaee"/><rect x="39.5" y="0" width="1.6" height="174.4" fill="#d2d3d9"/><rect x="79.8" y="0" width="1.6" height="174.4" fill="#d2d3d9"/><rect x="23.1" y="46.6" width="6.6" height="6.6" fill="#c40a14"/><rect x="63.4" y="46.6" width="6.6" height="6.6" fill="#c40a14"/><rect x="103.8" y="46.6" width="6.6" height="6.6" fill="#c40a14"/><rect x="2" y="74.4" width="116.89999999999999" height="21" rx="3" fill="url(#hb)"/><rect x="0.5" y="80" width="3" height="12" rx="1.5" fill="#5a9ce4"/><rect x="117.39999999999999" y="80" width="3" height="12" rx="1.5" fill="#5a9ce4"/><rect x="5.0" y="93" width="30.3" height="32.5" fill="url(#hl)"/><rect x="45.3" y="93" width="30.3" height="32.5" fill="url(#hl)"/><rect x="85.6" y="93" width="30.3" height="32.5" fill="url(#hl)"/><rect x="20.1" y="75.6" width="11" height="8" fill="#1f5aa8"/><rect x="89.8" y="75.6" width="11" height="8" fill="#1f5aa8"/><rect x="-4" y="125" width="128.89999999999998" height="12.6" fill="url(#ledge)"/><circle cx="20.3" cy="16.7" r="9.4" fill="url(#t_yellow)"/><circle cx="20.3" cy="16.7" r="4.4" fill="#161616"/><circle cx="20.3" cy="155.6" r="9.4" fill="url(#t_yellow)"/><circle cx="20.3" cy="155.6" r="4.4" fill="#161616"/><circle cx="60.6" cy="16.7" r="9.4" fill="url(#t_green)"/><circle cx="60.6" cy="16.7" r="4.4" fill="#161616"/><circle cx="60.6" cy="155.6" r="9.4" fill="url(#t_green)"/><circle cx="60.6" cy="155.6" r="4.4" fill="#161616"/><circle cx="100.9" cy="16.7" r="9.4" fill="url(#t_dred)"/><circle cx="100.9" cy="16.7" r="4.4" fill="#161616"/><circle cx="100.9" cy="155.6" r="9.4" fill="url(#t_dred)"/><circle cx="100.9" cy="155.6" r="4.4" fill="#161616"/></g><g transform="translate(861.40,944.70) scale(0.782)"><rect x="-5" y="38" width="90.6" height="104" fill="#000" opacity=".10" filter="url(#b1)"/><rect x="0" y="0" width="80.6" height="37" fill="#e2e3e8"/><rect x="0" y="137" width="80.6" height="37.4" fill="#e2e3e8"/><rect x="-3" y="36.6" width="86.6" height="101" fill="#e9eaee"/><rect x="39.5" y="0" width="1.6" height="174.4" fill="#d2d3d9"/><rect x="23.1" y="46.6" width="6.6" height="6.6" fill="#c40a14"/><rect x="63.4" y="46.6" width="6.6" height="6.6" fill="#c40a14"/><rect x="2" y="74.4" width="76.6" height="21" rx="3" fill="url(#hb)"/><rect x="0.5" y="80" width="3" height="12" rx="1.5" fill="#5a9ce4"/><rect x="77.1" y="80" width="3" height="12" rx="1.5" fill="#5a9ce4"/><rect x="5.0" y="93" width="30.3" height="32.5" fill="url(#hl)"/><rect x="45.3" y="93" width="30.3" height="32.5" fill="url(#hl)"/><rect x="20.1" y="75.6" width="11" height="8" fill="#1f5aa8"/><rect x="49.4" y="75.6" width="11" height="8" fill="#1f5aa8"/><rect x="-4" y="125" width="88.6" height="12.6" fill="url(#ledge)"/><circle cx="20.3" cy="16.7" r="9.4" fill="url(#t_dred)"/><circle cx="20.3" cy="16.7" r="4.4" fill="#161616"/><circle cx="20.3" cy="155.6" r="9.4" fill="url(#t_dred)"/><circle cx="20.3" cy="155.6" r="4.4" fill="#161616"/><circle cx="60.6" cy="16.7" r="9.4" fill="url(#t_dblue)"/><circle cx="60.6" cy="16.7" r="4.4" fill="#161616"/><circle cx="60.6" cy="155.6" r="9.4" fill="url(#t_dblue)"/><circle cx="60.6" cy="155.6" r="4.4" fill="#161616"/></g><rect x="422.1" y="1152.3" width="84.0" height="119.4" fill="#e3e4ea"/><rect x="422.1" y="1152.3" width="84.0" height="23.4" fill="#dadbe3"/><rect x="422.1" y="1238.5" width="84.0" height="33.2" fill="#dbdce4"/><rect x="422.1" y="1232.7" width="84.0" height="5.8" fill="#ecedf2"/><rect x="422.1" y="1184.7" width="3" height="4.6" fill="#c8b428"/><rect x="422.1" y="1186.3" width="3" height="1.3" fill="#8a7a18"/><rect x="425.1" y="1180.2" width="21.6" height="15" fill="url(#lever)"/><rect x="429.3" y="1199.1" width="12.6" height="4.5" rx="2.2" fill="#c20f1a"/><text x="425.85" y="1227" font-size="6.5" font-weight="bold" fill="#3c3c3c" font-family="'Liberation Sans','Noto Sans CJK SC',sans-serif">熔断器</text><rect x="424.1" y="1229.9" width="24.0" height=".7" fill="#cfd0d8"/><circle cx="435.6" cy="1164.1" r="6.5" fill="url(#t_yellow)"/><circle cx="435.6" cy="1164.1" r="3.1" fill="#161616"/><circle cx="435.6" cy="1258.3" r="6.5" fill="url(#t_yellow)"/><circle cx="435.6" cy="1258.3" r="3.1" fill="#161616"/><rect x="447.1" y="1184.7" width="6" height="4.6" fill="#c8b428"/><rect x="447.1" y="1186.3" width="6" height="1.3" fill="#8a7a18"/><rect x="453.1" y="1180.2" width="21.6" height="15" fill="url(#lever)"/><rect x="457.3" y="1199.1" width="12.6" height="4.5" rx="2.2" fill="#c20f1a"/><text x="453.85" y="1227" font-size="6.5" font-weight="bold" fill="#3c3c3c" font-family="'Liberation Sans','Noto Sans CJK SC',sans-serif">熔断器</text><rect x="452.1" y="1229.9" width="24.0" height=".7" fill="#cfd0d8"/><circle cx="463.6" cy="1164.1" r="6.5" fill="url(#t_green)"/><circle cx="463.6" cy="1164.1" r="3.1" fill="#161616"/><circle cx="463.6" cy="1258.3" r="6.5" fill="url(#t_green)"/><circle cx="463.6" cy="1258.3" r="3.1" fill="#161616"/><rect x="475.1" y="1184.7" width="6" height="4.6" fill="#c8b428"/><rect x="475.1" y="1186.3" width="6" height="1.3" fill="#8a7a18"/><rect x="481.1" y="1180.2" width="21.6" height="15" fill="url(#lever)"/><rect x="485.3" y="1199.1" width="12.6" height="4.5" rx="2.2" fill="#c20f1a"/><text x="481.85" y="1227" font-size="6.5" font-weight="bold" fill="#3c3c3c" font-family="'Liberation Sans','Noto Sans CJK SC',sans-serif">熔断器</text><rect x="480.1" y="1229.9" width="24.0" height=".7" fill="#cfd0d8"/><circle cx="491.6" cy="1164.1" r="6.5" fill="url(#t_dred)"/><circle cx="491.6" cy="1164.1" r="3.1" fill="#161616"/><circle cx="491.6" cy="1258.3" r="6.5" fill="url(#t_dred)"/><circle cx="491.6" cy="1258.3" r="3.1" fill="#161616"/><rect x="503.1" y="1184.7" width="3" height="4.6" fill="#c8b428"/><rect x="422.1" y="1175.7" width="84.0" height="1.6" fill="#eeeff4"/><rect x="449.4" y="1152.3" width="1.4" height="119.4" fill="#cdced6"/><rect x="477.4" y="1152.3" width="1.4" height="119.4" fill="#cdced6"/><rect x="850.2" y="1122.0" width="55.7" height="119.4" fill="#e3e4ea"/><rect x="850.2" y="1122.0" width="55.7" height="23.4" fill="#dadbe3"/><rect x="850.2" y="1208.2" width="55.7" height="33.2" fill="#dbdce4"/><rect x="850.2" y="1202.4" width="55.7" height="5.8" fill="#ecedf2"/><rect x="850.2" y="1154.4" width="3" height="4.6" fill="#c8b428"/><rect x="850.2" y="1156.0" width="3" height="1.3" fill="#8a7a18"/><rect x="853.2" y="1149.9" width="21.5" height="15" fill="url(#lever)"/><rect x="857.3" y="1168.8" width="12.6" height="4.5" rx="2.2" fill="#c20f1a"/><text x="853.88" y="1196.7" font-size="6.5" font-weight="bold" fill="#3c3c3c" font-family="'Liberation Sans','Noto Sans CJK SC',sans-serif">熔断器</text><rect x="852.2" y="1199.6" width="23.9" height=".7" fill="#cfd0d8"/><circle cx="863.6" cy="1133.8" r="6.5" fill="url(#t_dred)"/><circle cx="863.6" cy="1133.8" r="3.1" fill="#161616"/><circle cx="863.6" cy="1228.0" r="6.5" fill="url(#t_dred)"/><circle cx="863.6" cy="1228.0" r="3.1" fill="#161616"/><rect x="875.1" y="1154.4" width="6" height="4.6" fill="#c8b428"/><rect x="875.1" y="1156.0" width="6" height="1.3" fill="#8a7a18"/><rect x="881.1" y="1149.9" width="21.5" height="15" fill="url(#lever)"/><rect x="885.2" y="1168.8" width="12.6" height="4.5" rx="2.2" fill="#c20f1a"/><text x="881.73" y="1196.7" font-size="6.5" font-weight="bold" fill="#3c3c3c" font-family="'Liberation Sans','Noto Sans CJK SC',sans-serif">熔断器</text><rect x="880.1" y="1199.6" width="23.9" height=".7" fill="#cfd0d8"/><circle cx="891.5" cy="1133.8" r="6.5" fill="url(#t_dblue)"/><circle cx="891.5" cy="1133.8" r="3.1" fill="#161616"/><circle cx="891.5" cy="1228.0" r="6.5" fill="url(#t_dblue)"/><circle cx="891.5" cy="1228.0" r="3.1" fill="#161616"/><rect x="902.9" y="1154.4" width="3" height="4.6" fill="#c8b428"/><rect x="850.2" y="1145.4" width="55.7" height="1.6" fill="#eeeff4"/><rect x="877.4" y="1122.0" width="1.4" height="119.4" fill="#cdced6"/><path d="M563.9 971.4V985.4C563.9 992.4 571.4 991.4 571.4 999.4V1013.9A11.9 3.6 0 0 0 595.2 1013.9V999.4C595.2 991.4 602.7 992.4 602.7 985.4V971.4Z" fill="url(#lbody)"/><rect x="571.4" y="995.9" width="4.4" height="1.5" fill="#000"/><rect x="590.8" y="995.9" width="4.4" height="1.5" fill="#000"/><rect x="571.4" y="999.9" width="4.4" height="1.5" fill="#000"/><rect x="590.8" y="999.9" width="4.4" height="1.5" fill="#000"/><rect x="571.4" y="1003.9" width="4.4" height="1.5" fill="#000"/><rect x="590.8" y="1003.9" width="4.4" height="1.5" fill="#000"/><path d="M563.9 957.8V972.4A19.4 7.4 0 0 0 602.7 972.4V957.8Z" fill="url(#ld_g)"/><ellipse cx="583.3" cy="957.8" rx="19.4" ry="7.4" fill="url(#lt_g)"/><circle cx="565.0" cy="1008.9" r="6.6" fill="url(#t_dred)"/><circle cx="565.0" cy="1008.9" r="3.1" fill="#161616"/><circle cx="601.7" cy="1008.9" r="6.6" fill="url(#t_dblue)"/><circle cx="601.7" cy="1008.9" r="3.1" fill="#161616"/><path d="M669.1 964.4V978.4C669.1 985.4 676.6 984.4 676.6 992.4V1006.9A11.9 3.6 0 0 0 700.4 1006.9V992.4C700.4 984.4 707.9 985.4 707.9 978.4V964.4Z" fill="url(#lbody)"/><rect x="676.6" y="988.9" width="4.4" height="1.5" fill="#000"/><rect x="696.0" y="988.9" width="4.4" height="1.5" fill="#000"/><rect x="676.6" y="992.9" width="4.4" height="1.5" fill="#000"/><rect x="696.0" y="992.9" width="4.4" height="1.5" fill="#000"/><rect x="676.6" y="996.9" width="4.4" height="1.5" fill="#000"/><rect x="696.0" y="996.9" width="4.4" height="1.5" fill="#000"/><path d="M669.1 950.8V965.4A19.4 7.4 0 0 0 707.9 965.4V950.8Z" fill="url(#ld_y)"/><ellipse cx="688.5" cy="950.8" rx="19.4" ry="7.4" fill="url(#lt_y)"/><circle cx="670.2" cy="1001.9" r="6.6" fill="url(#t_dred)"/><circle cx="670.2" cy="1001.9" r="3.1" fill="#161616"/><circle cx="706.9" cy="1001.9" r="6.6" fill="url(#t_dblue)"/><circle cx="706.9" cy="1001.9" r="3.1" fill="#161616"/><path d="M766.3 964.3V978.3C766.3 985.3 773.8 984.3 773.8 992.3V1006.8A11.9 3.6 0 0 0 797.6 1006.8V992.3C797.6 984.3 805.1 985.3 805.1 978.3V964.3Z" fill="url(#lbody)"/><rect x="773.8" y="988.8" width="4.4" height="1.5" fill="#000"/><rect x="793.2" y="988.8" width="4.4" height="1.5" fill="#000"/><rect x="773.8" y="992.8" width="4.4" height="1.5" fill="#000"/><rect x="793.2" y="992.8" width="4.4" height="1.5" fill="#000"/><rect x="773.8" y="996.8" width="4.4" height="1.5" fill="#000"/><rect x="793.2" y="996.8" width="4.4" height="1.5" fill="#000"/><path d="M766.3 950.7V965.3A19.4 7.4 0 0 0 805.1 965.3V950.7Z" fill="url(#ld_r)"/><ellipse cx="785.7" cy="950.7" rx="19.4" ry="7.4" fill="url(#lt_r)"/><circle cx="767.4" cy="1001.8" r="6.6" fill="url(#t_dred)"/><circle cx="767.4" cy="1001.8" r="3.1" fill="#161616"/><circle cx="804.1" cy="1001.8" r="6.6" fill="url(#t_dblue)"/><circle cx="804.1" cy="1001.8" r="3.1" fill="#161616"/><rect x="660.5" y="1068.1" width="48.6" height="63.8" rx="2.4" fill="#050505"/><path d="M660.5 1086.1V1070.5a2.4 2.4 0 0 1 2.4 -2.4H706.7a2.4 2.4 0 0 1 2.4 2.4V1086.1Z" fill="#2b2b2b"/><path d="M670.6 1065.1V1079.1A14.4 3.4 0 0 0 699.4 1079.1V1065.1Z" fill="url(#silver)"/><ellipse cx="685.0" cy="1065.1" rx="14.4" ry="3" fill="#d8d8d8"/><rect x="675.0" y="1059.1" width="20" height="7.5" fill="url(#silver)"/><path d="M666.9 1050.5V1057.1A18.1 3.2 0 0 0 703.1 1057.1V1050.5Z" fill="url(#capr)"/><ellipse cx="685.0" cy="1050.5" rx="18.1" ry="3.8" fill="#f47a78"/><circle cx="668.3" cy="1093.3" r="6.6" fill="url(#t_dred)"/><circle cx="668.3" cy="1093.3" r="3.1" fill="#161616"/><circle cx="668.3" cy="1124.4" r="6.6" fill="url(#t_green)"/><circle cx="668.3" cy="1124.4" r="3.1" fill="#161616"/><circle cx="701.7" cy="1093.3" r="6.6" fill="url(#t_dred)"/><circle cx="701.7" cy="1093.3" r="3.1" fill="#161616"/><circle cx="701.7" cy="1124.4" r="6.6" fill="url(#t_green)"/><circle cx="701.7" cy="1124.4" r="3.1" fill="#161616"/><path d="M685.4 1072.6V1098.1M674.3 1098.7H695.9" stroke="#12a6f2" stroke-width="3" fill="none"/><text x="673.7" y="1110.5" font-size="8.4" font-weight="bold" fill="#b8b8b8" font-family="'Liberation Sans','Noto Sans CJK SC',sans-serif">复</text><text x="687.9" y="1110.5" font-size="8.4" font-weight="bold" fill="#b8b8b8" font-family="'Liberation Sans','Noto Sans CJK SC',sans-serif">合</text><rect x="670.3" y="1111.9" width="29" height="0.9" fill="#8a7444"/><rect x="572.6" y="1188.5" width="48.6" height="63.8" rx="2.4" fill="#050505"/><path d="M572.6 1206.5V1190.9a2.4 2.4 0 0 1 2.4 -2.4H618.8a2.4 2.4 0 0 1 2.4 2.4V1206.5Z" fill="#2b2b2b"/><path d="M582.7 1185.5V1199.5A14.4 3.4 0 0 0 611.5 1199.5V1185.5Z" fill="url(#silver)"/><ellipse cx="597.1" cy="1185.5" rx="14.4" ry="3" fill="#d8d8d8"/><rect x="587.1" y="1179.5" width="20" height="7.5" fill="url(#silver)"/><path d="M579.0 1170.9V1177.5A18.1 3.2 0 0 0 615.2 1177.5V1170.9Z" fill="url(#capg)"/><ellipse cx="597.1" cy="1170.9" rx="18.1" ry="3.8" fill="#6cf07c"/><circle cx="580.4" cy="1213.7" r="6.6" fill="url(#t_dred)"/><circle cx="580.4" cy="1213.7" r="3.1" fill="#161616"/><circle cx="580.4" cy="1244.8" r="6.6" fill="url(#t_green)"/><circle cx="580.4" cy="1244.8" r="3.1" fill="#161616"/><circle cx="613.8" cy="1213.7" r="6.6" fill="url(#t_dred)"/><circle cx="613.8" cy="1213.7" r="3.1" fill="#161616"/><circle cx="613.8" cy="1244.8" r="6.6" fill="url(#t_green)"/><circle cx="613.8" cy="1244.8" r="3.1" fill="#161616"/><path d="M597.5 1193.0V1218.5M586.4 1219.1H608.0" stroke="#12a6f2" stroke-width="3" fill="none"/><text x="585.8" y="1230.9" font-size="8.4" font-weight="bold" fill="#b8b8b8" font-family="'Liberation Sans','Noto Sans CJK SC',sans-serif">复</text><text x="600" y="1230.9" font-size="8.4" font-weight="bold" fill="#b8b8b8" font-family="'Liberation Sans','Noto Sans CJK SC',sans-serif">合</text><rect x="582.4" y="1232.3" width="29" height="0.9" fill="#8a7444"/><rect x="733.1" y="1188.5" width="48.6" height="63.8" rx="2.4" fill="#050505"/><path d="M733.1 1206.5V1190.9a2.4 2.4 0 0 1 2.4 -2.4H779.3a2.4 2.4 0 0 1 2.4 2.4V1206.5Z" fill="#2b2b2b"/><path d="M743.2 1185.5V1199.5A14.4 3.4 0 0 0 772.0 1199.5V1185.5Z" fill="url(#silver)"/><ellipse cx="757.6" cy="1185.5" rx="14.4" ry="3" fill="#d8d8d8"/><rect x="747.6" y="1179.5" width="20" height="7.5" fill="url(#silver)"/><path d="M739.5 1170.9V1177.5A18.1 3.2 0 0 0 775.7 1177.5V1170.9Z" fill="url(#capg)"/><ellipse cx="757.6" cy="1170.9" rx="18.1" ry="3.8" fill="#6cf07c"/><circle cx="740.9" cy="1213.7" r="6.6" fill="url(#t_dred)"/><circle cx="740.9" cy="1213.7" r="3.1" fill="#161616"/><circle cx="740.9" cy="1244.8" r="6.6" fill="url(#t_green)"/><circle cx="740.9" cy="1244.8" r="3.1" fill="#161616"/><circle cx="774.3" cy="1213.7" r="6.6" fill="url(#t_dred)"/><circle cx="774.3" cy="1213.7" r="3.1" fill="#161616"/><circle cx="774.3" cy="1244.8" r="6.6" fill="url(#t_green)"/><circle cx="774.3" cy="1244.8" r="3.1" fill="#161616"/><path d="M758.0 1193.0V1218.5M746.9 1219.1H768.5" stroke="#12a6f2" stroke-width="3" fill="none"/><text x="746.3" y="1230.9" font-size="8.4" font-weight="bold" fill="#b8b8b8" font-family="'Liberation Sans','Noto Sans CJK SC',sans-serif">复</text><text x="760.5" y="1230.9" font-size="8.4" font-weight="bold" fill="#b8b8b8" font-family="'Liberation Sans','Noto Sans CJK SC',sans-serif">合</text><rect x="742.9" y="1232.3" width="29" height="0.9" fill="#8a7444"/><rect x="416.1" y="1333.8" width="133.8" height="166.2" fill="#efefef"/><rect x="416.1" y="1334.8" width="5.5" height="12.6" rx="1" fill="#3a3a3a"/><rect x="431.6" y="1334.8" width="8.2" height="12.6" rx="1" fill="#dcdcdc"/><rect x="453.1" y="1334.8" width="5.2" height="12.6" rx="1" fill="#3a3a3a"/><rect x="464.1" y="1334.8" width="10.5" height="12.6" rx="1" fill="#dadada"/><rect x="483.1" y="1334.8" width="5.2" height="12.6" rx="1" fill="#3a3a3a"/><rect x="519.7" y="1334.8" width="4.6" height="12.6" rx="1" fill="#3a3a3a"/><rect x="544.3" y="1334.8" width="5.6" height="12.6" rx="1" fill="#3a3a3a"/><rect x="416.1" y="1486.0" width="6.6" height="11.8" rx="1" fill="#3a3a3a"/><rect x="427.1" y="1486.0" width="18" height="11.8" rx="1" fill="#dcdcdc"/><rect x="451.7" y="1486.0" width="6.6" height="11.8" rx="1" fill="#3a3a3a"/><rect x="462.1" y="1486.0" width="20" height="11.8" rx="1" fill="#dcdcdc"/><rect x="482.1" y="1486.0" width="6.6" height="11.8" rx="1" fill="#3a3a3a"/><rect x="518.9" y="1486.0" width="5.4" height="11.8" rx="1" fill="#3a3a3a"/><rect x="544.1" y="1486.0" width="5.8" height="11.8" rx="1" fill="#3a3a3a"/><path d="M416.1 1377.0H549.9V1446.0H524.3V1452.6H416.1Z" fill="#2a2a2a"/><rect x="416.1" y="1390.8" width="133.8" height="1.2" fill="#3a3a3a"/><rect x="464.3" y="1383.7" width="37.8" height="19.4" fill="#3e3e3e"/><rect x="476.1" y="1385.8" width="15" height="4" fill="#555"/><rect x="476.1" y="1394.1" width="15" height="6.6" fill="#161616"/><rect x="419.1" y="1403.0" width="28.8" height="24.4" fill="none" stroke="#3c3c3c" stroke-width="1.2"/><rect x="522.5" y="1403.0" width="24.6" height="24.4" fill="none" stroke="#3c3c3c" stroke-width="1.2"/><rect x="530.1" y="1394.8" width="8.2" height="4.5" fill="#111"/><rect x="451.7" y="1402.8" width="66" height="26" fill="#1c1c1c"/><rect x="453.9" y="1404.7" width="61.5" height="22.3" fill="#2458c0"/><rect x="468.1" y="1404.7" width="12" height="13" fill="#3470dc"/><rect x="489.1" y="1404.7" width="12" height="13" fill="#3470dc"/><rect x="474.1" y="1416.8" width="8" height="10.2" fill="#3470dc"/><rect x="495.1" y="1416.8" width="8" height="10.2" fill="#3470dc"/><rect x="483.5" y="1404.7" width="2.6" height="22.3" fill="#1a3e90"/><rect x="528.0" y="1412.1" width="13.3" height="9.6" fill="#2458c0"/><rect x="451.7" y="1429.6" width="64.4" height="19.4" fill="#303030"/><rect x="458.1" y="1433.4" width="52" height="1" fill="#444"/><circle cx="444.7" cy="1340.7" r="7.8" fill="url(#t_dred)"/><circle cx="444.7" cy="1340.7" r="3.7" fill="#161616"/><circle cx="509.9" cy="1340.7" r="7.8" fill="url(#t_dred)"/><circle cx="509.9" cy="1340.7" r="3.7" fill="#161616"/><circle cx="537.3" cy="1340.7" r="7.8" fill="url(#t_yellow)"/><circle cx="537.3" cy="1340.7" r="3.7" fill="#161616"/><circle cx="429.1" cy="1360.0" r="8.9" fill="url(#t_orange)"/><circle cx="429.1" cy="1360.0" r="4.2" fill="#161616"/><circle cx="429.3" cy="1470.7" r="8.9" fill="url(#t_orange)"/><circle cx="429.3" cy="1470.7" r="4.2" fill="#161616"/><circle cx="463.5" cy="1360.0" r="8.9" fill="url(#t_orange)"/><circle cx="463.5" cy="1360.0" r="4.2" fill="#161616"/><circle cx="463.7" cy="1470.7" r="8.9" fill="url(#t_orange)"/><circle cx="463.7" cy="1470.7" r="4.2" fill="#161616"/><circle cx="497.3" cy="1360.0" r="8.9" fill="url(#t_orange)"/><circle cx="497.3" cy="1360.0" r="4.2" fill="#161616"/><circle cx="497.5" cy="1470.7" r="8.9" fill="url(#t_orange)"/><circle cx="497.5" cy="1470.7" r="4.2" fill="#161616"/><circle cx="536.1" cy="1368.9" r="7.7" fill="url(#t_green)"/><circle cx="536.1" cy="1368.9" r="3.6" fill="#161616"/><circle cx="536.1" cy="1458.2" r="7.7" fill="url(#t_green)"/><circle cx="536.1" cy="1458.2" r="3.6" fill="#161616"/><circle cx="537.6" cy="1487.4" r="7.7" fill="url(#t_yellow)"/><circle cx="537.6" cy="1487.4" r="3.6" fill="#161616"/><circle cx="511.7" cy="1491.9" r="7.7" fill="url(#t_dred)"/><circle cx="511.7" cy="1491.9" r="3.6" fill="#161616"/><text x="447.7" y="1356.8" font-size="8.6" fill="#d01a24" font-weight="bold" text-anchor="middle" font-family="Liberation Sans, sans-serif" stroke="#5a0a10" stroke-width="1.5" stroke-linejoin="round" paint-order="stroke" letter-spacing="-0.2">A1</text><text x="515.8" y="1356.4" font-size="8.6" fill="#d01a24" font-weight="bold" text-anchor="middle" font-family="Liberation Sans, sans-serif" stroke="#5a0a10" stroke-width="1.5" stroke-linejoin="round" paint-order="stroke" letter-spacing="-0.2">A2</text><text x="538.1" y="1356.8" font-size="8" fill="#d8c81c" font-weight="bold" text-anchor="middle" font-family="Liberation Sans, sans-serif" stroke="#4a4408" stroke-width="1.5" stroke-linejoin="round" paint-order="stroke" letter-spacing="-0.2">21/NC</text><text x="429.4" y="1377.2" font-size="8.8" fill="#e88a2c" font-weight="bold" text-anchor="middle" font-family="Liberation Sans, sans-serif" stroke="#2c1c08" stroke-width="1.5" stroke-linejoin="round" paint-order="stroke" letter-spacing="-0.2">1/L1</text><text x="463.2" y="1377.2" font-size="8.8" fill="#e88a2c" font-weight="bold" text-anchor="middle" font-family="Liberation Sans, sans-serif" stroke="#2c1c08" stroke-width="1.5" stroke-linejoin="round" paint-order="stroke" letter-spacing="-0.2">3/L2</text><text x="497.3" y="1377.2" font-size="8.8" fill="#e88a2c" font-weight="bold" text-anchor="middle" font-family="Liberation Sans, sans-serif" stroke="#2c1c08" stroke-width="1.5" stroke-linejoin="round" paint-order="stroke" letter-spacing="-0.2">5/L3</text><text x="536.1" y="1383.8" font-size="7.6" fill="#b8f0c0" font-weight="bold" text-anchor="middle" font-family="Liberation Sans, sans-serif" stroke="#0a4a18" stroke-width="1.5" stroke-linejoin="round" paint-order="stroke" letter-spacing="-0.2">13/NO</text><text x="429.1" y="1458.8" font-size="8.8" fill="#e88a2c" font-weight="bold" text-anchor="middle" font-family="Liberation Sans, sans-serif" stroke="#2c1c08" stroke-width="1.5" stroke-linejoin="round" paint-order="stroke" letter-spacing="-0.2">2/T1</text><text x="463.2" y="1458.8" font-size="8.8" fill="#e88a2c" font-weight="bold" text-anchor="middle" font-family="Liberation Sans, sans-serif" stroke="#2c1c08" stroke-width="1.5" stroke-linejoin="round" paint-order="stroke" letter-spacing="-0.2">4/T2</text><text x="497.3" y="1458.8" font-size="8.8" fill="#e88a2c" font-weight="bold" text-anchor="middle" font-family="Liberation Sans, sans-serif" stroke="#2c1c08" stroke-width="1.5" stroke-linejoin="round" paint-order="stroke" letter-spacing="-0.2">6/T3</text><text x="535.4" y="1448.8" font-size="8" fill="#24b040" font-weight="bold" text-anchor="middle" font-family="Liberation Sans, sans-serif" stroke="#0a4a18" stroke-width="1.5" stroke-linejoin="round" paint-order="stroke" letter-spacing="-0.2">14/NO</text><text x="538.3" y="1478.2" font-size="8" fill="#d8c81c" font-weight="bold" text-anchor="middle" font-family="Liberation Sans, sans-serif" stroke="#4a4408" stroke-width="1.5" stroke-linejoin="round" paint-order="stroke" letter-spacing="-0.2">22/NC</text><text x="513.6" y="1483.0" font-size="8.6" fill="#d01a24" font-weight="bold" text-anchor="middle" font-family="Liberation Sans, sans-serif" stroke="#5a0a10" stroke-width="1.5" stroke-linejoin="round" paint-order="stroke" letter-spacing="-0.2">A2</text><rect x="631.3" y="1332.4" width="133.8" height="166.2" fill="#efefef"/><rect x="631.3" y="1333.4" width="5.5" height="12.6" rx="1" fill="#3a3a3a"/><rect x="646.8" y="1333.4" width="8.2" height="12.6" rx="1" fill="#dcdcdc"/><rect x="668.3" y="1333.4" width="5.2" height="12.6" rx="1" fill="#3a3a3a"/><rect x="679.3" y="1333.4" width="10.5" height="12.6" rx="1" fill="#dadada"/><rect x="698.3" y="1333.4" width="5.2" height="12.6" rx="1" fill="#3a3a3a"/><rect x="734.9" y="1333.4" width="4.6" height="12.6" rx="1" fill="#3a3a3a"/><rect x="759.5" y="1333.4" width="5.6" height="12.6" rx="1" fill="#3a3a3a"/><rect x="631.3" y="1484.6" width="6.6" height="11.8" rx="1" fill="#3a3a3a"/><rect x="642.3" y="1484.6" width="18" height="11.8" rx="1" fill="#dcdcdc"/><rect x="666.9" y="1484.6" width="6.6" height="11.8" rx="1" fill="#3a3a3a"/><rect x="677.3" y="1484.6" width="20" height="11.8" rx="1" fill="#dcdcdc"/><rect x="697.3" y="1484.6" width="6.6" height="11.8" rx="1" fill="#3a3a3a"/><rect x="734.1" y="1484.6" width="5.4" height="11.8" rx="1" fill="#3a3a3a"/><rect x="759.3" y="1484.6" width="5.8" height="11.8" rx="1" fill="#3a3a3a"/><path d="M631.3 1375.6H765.1V1444.6H739.5V1451.2H631.3Z" fill="#2a2a2a"/><rect x="631.3" y="1389.4" width="133.8" height="1.2" fill="#3a3a3a"/><rect x="679.5" y="1382.3" width="37.8" height="19.4" fill="#3e3e3e"/><rect x="691.3" y="1384.4" width="15" height="4" fill="#555"/><rect x="691.3" y="1392.7" width="15" height="6.6" fill="#161616"/><rect x="634.3" y="1401.6" width="28.8" height="24.4" fill="none" stroke="#3c3c3c" stroke-width="1.2"/><rect x="737.7" y="1401.6" width="24.6" height="24.4" fill="none" stroke="#3c3c3c" stroke-width="1.2"/><rect x="745.3" y="1393.4" width="8.2" height="4.5" fill="#111"/><rect x="666.9" y="1401.4" width="66" height="26" fill="#1c1c1c"/><rect x="669.1" y="1403.3" width="61.5" height="22.3" fill="#2458c0"/><rect x="683.3" y="1403.3" width="12" height="13" fill="#3470dc"/><rect x="704.3" y="1403.3" width="12" height="13" fill="#3470dc"/><rect x="689.3" y="1415.4" width="8" height="10.2" fill="#3470dc"/><rect x="710.3" y="1415.4" width="8" height="10.2" fill="#3470dc"/><rect x="698.7" y="1403.3" width="2.6" height="22.3" fill="#1a3e90"/><rect x="743.2" y="1410.7" width="13.3" height="9.6" fill="#2458c0"/><rect x="666.9" y="1428.2" width="64.4" height="19.4" fill="#303030"/><rect x="673.3" y="1432.0" width="52" height="1" fill="#444"/><circle cx="659.9" cy="1339.3" r="7.8" fill="url(#t_dred)"/><circle cx="659.9" cy="1339.3" r="3.7" fill="#161616"/><circle cx="725.1" cy="1339.3" r="7.8" fill="url(#t_dred)"/><circle cx="725.1" cy="1339.3" r="3.7" fill="#161616"/><circle cx="752.5" cy="1339.3" r="7.8" fill="url(#t_yellow)"/><circle cx="752.5" cy="1339.3" r="3.7" fill="#161616"/><circle cx="644.3" cy="1358.6" r="8.9" fill="url(#t_orange)"/><circle cx="644.3" cy="1358.6" r="4.2" fill="#161616"/><circle cx="644.5" cy="1469.3" r="8.9" fill="url(#t_orange)"/><circle cx="644.5" cy="1469.3" r="4.2" fill="#161616"/><circle cx="678.7" cy="1358.6" r="8.9" fill="url(#t_orange)"/><circle cx="678.7" cy="1358.6" r="4.2" fill="#161616"/><circle cx="678.9" cy="1469.3" r="8.9" fill="url(#t_orange)"/><circle cx="678.9" cy="1469.3" r="4.2" fill="#161616"/><circle cx="712.5" cy="1358.6" r="8.9" fill="url(#t_orange)"/><circle cx="712.5" cy="1358.6" r="4.2" fill="#161616"/><circle cx="712.7" cy="1469.3" r="8.9" fill="url(#t_orange)"/><circle cx="712.7" cy="1469.3" r="4.2" fill="#161616"/><circle cx="751.3" cy="1367.5" r="7.7" fill="url(#t_green)"/><circle cx="751.3" cy="1367.5" r="3.6" fill="#161616"/><circle cx="751.3" cy="1456.8" r="7.7" fill="url(#t_green)"/><circle cx="751.3" cy="1456.8" r="3.6" fill="#161616"/><circle cx="752.8" cy="1486.0" r="7.7" fill="url(#t_yellow)"/><circle cx="752.8" cy="1486.0" r="3.6" fill="#161616"/><circle cx="726.9" cy="1490.5" r="7.7" fill="url(#t_dred)"/><circle cx="726.9" cy="1490.5" r="3.6" fill="#161616"/><text x="662.9" y="1355.4" font-size="8.6" fill="#d01a24" font-weight="bold" text-anchor="middle" font-family="Liberation Sans, sans-serif" stroke="#5a0a10" stroke-width="1.5" stroke-linejoin="round" paint-order="stroke" letter-spacing="-0.2">A1</text><text x="731.0" y="1355.0" font-size="8.6" fill="#d01a24" font-weight="bold" text-anchor="middle" font-family="Liberation Sans, sans-serif" stroke="#5a0a10" stroke-width="1.5" stroke-linejoin="round" paint-order="stroke" letter-spacing="-0.2">A2</text><text x="753.3" y="1355.4" font-size="8" fill="#d8c81c" font-weight="bold" text-anchor="middle" font-family="Liberation Sans, sans-serif" stroke="#4a4408" stroke-width="1.5" stroke-linejoin="round" paint-order="stroke" letter-spacing="-0.2">21/NC</text><text x="644.6" y="1375.8" font-size="8.8" fill="#e88a2c" font-weight="bold" text-anchor="middle" font-family="Liberation Sans, sans-serif" stroke="#2c1c08" stroke-width="1.5" stroke-linejoin="round" paint-order="stroke" letter-spacing="-0.2">1/L1</text><text x="678.4" y="1375.8" font-size="8.8" fill="#e88a2c" font-weight="bold" text-anchor="middle" font-family="Liberation Sans, sans-serif" stroke="#2c1c08" stroke-width="1.5" stroke-linejoin="round" paint-order="stroke" letter-spacing="-0.2">3/L2</text><text x="712.5" y="1375.8" font-size="8.8" fill="#e88a2c" font-weight="bold" text-anchor="middle" font-family="Liberation Sans, sans-serif" stroke="#2c1c08" stroke-width="1.5" stroke-linejoin="round" paint-order="stroke" letter-spacing="-0.2">5/L3</text><text x="751.3" y="1382.4" font-size="7.6" fill="#b8f0c0" font-weight="bold" text-anchor="middle" font-family="Liberation Sans, sans-serif" stroke="#0a4a18" stroke-width="1.5" stroke-linejoin="round" paint-order="stroke" letter-spacing="-0.2">13/NO</text><text x="644.3" y="1457.4" font-size="8.8" fill="#e88a2c" font-weight="bold" text-anchor="middle" font-family="Liberation Sans, sans-serif" stroke="#2c1c08" stroke-width="1.5" stroke-linejoin="round" paint-order="stroke" letter-spacing="-0.2">2/T1</text><text x="678.4" y="1457.4" font-size="8.8" fill="#e88a2c" font-weight="bold" text-anchor="middle" font-family="Liberation Sans, sans-serif" stroke="#2c1c08" stroke-width="1.5" stroke-linejoin="round" paint-order="stroke" letter-spacing="-0.2">4/T2</text><text x="712.5" y="1457.4" font-size="8.8" fill="#e88a2c" font-weight="bold" text-anchor="middle" font-family="Liberation Sans, sans-serif" stroke="#2c1c08" stroke-width="1.5" stroke-linejoin="round" paint-order="stroke" letter-spacing="-0.2">6/T3</text><text x="750.6" y="1447.4" font-size="8" fill="#24b040" font-weight="bold" text-anchor="middle" font-family="Liberation Sans, sans-serif" stroke="#0a4a18" stroke-width="1.5" stroke-linejoin="round" paint-order="stroke" letter-spacing="-0.2">14/NO</text><text x="753.5" y="1476.8" font-size="8" fill="#d8c81c" font-weight="bold" text-anchor="middle" font-family="Liberation Sans, sans-serif" stroke="#4a4408" stroke-width="1.5" stroke-linejoin="round" paint-order="stroke" letter-spacing="-0.2">22/NC</text><text x="728.8" y="1481.6" font-size="8.6" fill="#d01a24" font-weight="bold" text-anchor="middle" font-family="Liberation Sans, sans-serif" stroke="#5a0a10" stroke-width="1.5" stroke-linejoin="round" paint-order="stroke" letter-spacing="-0.2">A2</text><rect x="650.3" y="1569.5" width="3.2" height="7" fill="#e8872a"/><rect x="647.8" y="1575.2" width="8.2" height="15" fill="#2a2a2a"/><rect x="676.2" y="1569.5" width="3.2" height="7" fill="#e8872a"/><rect x="673.7" y="1575.2" width="8.2" height="15" fill="#2a2a2a"/><rect x="700.6" y="1569.5" width="3.2" height="7" fill="#e8872a"/><rect x="698.1" y="1575.2" width="8.2" height="15" fill="#2a2a2a"/><rect x="655.2" y="1581.9" width="44" height="8" fill="#262626"/><rect x="642.2" y="1588.5" width="99.6" height="58" rx="2.6" fill="#2d2d2d"/><rect x="643.2" y="1589.1" width="97.6" height="1.2" fill="#4a4a4a"/><rect x="648.1" y="1594.4" width="40" height="43" fill="#575757" stroke="#787878" stroke-width=".9"/><rect x="689.6" y="1594.4" width="49" height="43" fill="#262626" stroke="#3a3a3a" stroke-width=".8"/><rect x="693.3" y="1611.5" width="43.7" height="20" rx="10" fill="#161616"/><circle cx="668.1" cy="1610.0" r="12.1" fill="#44a4f4"/><path d="M662.5 1605.4L673.7 1614.6M673.7 1605.4L662.5 1614.6" stroke="#1c62b4" stroke-width="1.5" fill="none"/><text x="652.4" y="1631.7" font-size="4.2" fill="#8a8a8a" font-weight="normal" text-anchor="start" font-family="Liberation Sans, sans-serif" >TEST</text><rect x="662.5" y="1626.0" width="11.1" height="7.7" fill="#c8283a"/><rect x="664.7" y="1627.8" width="6.5" height="4.2" fill="#f06a78"/><circle cx="704.7" cy="1622.6" r="7.5" fill="#ffc414"/><path d="M701.0 1619.5H708.4M704.7 1619.5V1626.9" stroke="#fff2c0" stroke-width="1.5" fill="none"/><circle cx="727.7" cy="1622.6" r="7.7" fill="#2c8cec"/><path d="M721.2 1622.6H734.2M727.7 1616.1V1629.1" stroke="#1a66c0" stroke-width="1.3" fill="none"/><text x="704.4" y="1640.1" font-size="4.8" fill="#8c8c8c" font-weight="normal" text-anchor="middle" font-family="Liberation Sans, sans-serif" >STOP</text><text x="725.8" y="1640.1" font-size="4.8" fill="#8c8c8c" font-weight="normal" text-anchor="middle" font-family="Liberation Sans, sans-serif" >RESET</text><rect x="646.7" y="1676.5" width="94.8" height="24" fill="#8e8e8e"/><rect x="646.7" y="1676.5" width="94.8" height="5" fill="#7c7c7c"/><path d="M642.2 1644.8H741.8V1675.9a3 3 0 0 1 -3 3H645.2a3 3 0 0 1 -3 -3Z" fill="#b6b6b6"/><rect x="646.4" y="1649.0" width="41.7" height="30" rx="2.5" fill="#b0b0b0" stroke="#9c9c9c" stroke-width=".8"/><rect x="694.1" y="1649.0" width="42.9" height="30" rx="2.5" fill="#b0b0b0" stroke="#9c9c9c" stroke-width=".8"/><circle cx="655.6" cy="1660.4" r="6.7" fill="url(#t_green)"/><circle cx="655.6" cy="1660.4" r="3.4" fill="#161616"/><circle cx="678.5" cy="1660.4" r="6.7" fill="url(#t_green)"/><circle cx="678.5" cy="1660.4" r="3.4" fill="#161616"/><circle cx="703.7" cy="1660.4" r="6.7" fill="url(#t_yellow)"/><circle cx="703.7" cy="1660.4" r="3.0" fill="#161616"/><circle cx="727.0" cy="1660.4" r="6.7" fill="url(#t_yellow)"/><circle cx="727.0" cy="1660.4" r="3.0" fill="#161616"/><text x="667.4" y="1652.1" font-size="9.6" fill="#18b838" font-weight="bold" text-anchor="middle" font-family="Liberation Sans, sans-serif" stroke="#08400f" stroke-width="1.5" stroke-linejoin="round" paint-order="stroke" letter-spacing="-0.2">NO</text><text x="716.3" y="1652.7" font-size="9.6" fill="#e4d81c" font-weight="bold" text-anchor="middle" font-family="Liberation Sans, sans-serif" stroke="#3e3a06" stroke-width="1.5" stroke-linejoin="round" paint-order="stroke" letter-spacing="-0.2">NC</text><rect x="676.9" y="1680.1" width="4.8" height="4.4" fill="#3c3c3c"/><rect x="708.3" y="1680.1" width="4.8" height="4.4" fill="#3c3c3c"/><text x="663.0" y="1681.9" font-size="9.6" fill="#e88a2c" font-weight="bold" text-anchor="middle" font-family="Liberation Sans, sans-serif" stroke="#2c1c08" stroke-width="1.5" stroke-linejoin="round" paint-order="stroke" letter-spacing="-0.2">T1</text><text x="694.1" y="1681.9" font-size="9.6" fill="#e88a2c" font-weight="bold" text-anchor="middle" font-family="Liberation Sans, sans-serif" stroke="#2c1c08" stroke-width="1.5" stroke-linejoin="round" paint-order="stroke" letter-spacing="-0.2">T2</text><text x="724.9" y="1681.9" font-size="9.6" fill="#e88a2c" font-weight="bold" text-anchor="middle" font-family="Liberation Sans, sans-serif" stroke="#2c1c08" stroke-width="1.5" stroke-linejoin="round" paint-order="stroke" letter-spacing="-0.2">T3</text><circle cx="662.2" cy="1690.4" r="7.1" fill="url(#t_orange)"/><circle cx="662.2" cy="1690.4" r="3.3" fill="#161616"/><circle cx="693.6" cy="1690.4" r="7.1" fill="url(#t_orange)"/><circle cx="693.6" cy="1690.4" r="3.3" fill="#161616"/><circle cx="725.5" cy="1690.4" r="7.1" fill="url(#t_orange)"/><circle cx="725.5" cy="1690.4" r="3.3" fill="#161616"/><path d="M649.6 1700.4h8.2l-2.2 5.2h-8.2Z" fill="#1e1e1e"/><path d="M677.0 1700.4h8.2l-2.2 5.2h-8.2Z" fill="#1e1e1e"/><path d="M708.9 1700.4h8.2l-2.2 5.2h-8.2Z" fill="#1e1e1e"/><path d="M732.6 1700.4h8.2l-2.2 5.2h-8.2Z" fill="#1e1e1e"/><circle cx="651.9" cy="1563.3" r="7.7" fill="url(#t_orange)"/><circle cx="651.9" cy="1563.3" r="3.6" fill="#161616"/><circle cx="677.8" cy="1563.3" r="7.7" fill="url(#t_orange)"/><circle cx="677.8" cy="1563.3" r="3.6" fill="#161616"/><circle cx="702.2" cy="1563.3" r="7.7" fill="url(#t_orange)"/><circle cx="702.2" cy="1563.3" r="3.6" fill="#161616"/><defs><linearGradient id="mb" x1="0" x2="0" y1="0" y2="1"><stop offset="0" stop-color="#3f8cf0"/><stop offset=".4" stop-color="#2a74e0"/><stop offset="1" stop-color="#1c56bc"/></linearGradient><radialGradient id="mf" cx=".6" cy=".4" r=".7"><stop offset="0" stop-color="#8cc0ff"/><stop offset=".5" stop-color="#3a84ea"/><stop offset="1" stop-color="#1e5cc4"/></radialGradient></defs><path d="M616.3 1844.2L700 1836L705.8 1844.2V1850L638.3 1860.8L616.3 1850Z" fill="#5a88cc"/><path d="M616.3 1844.2L690 1834L705.8 1844.2L638.3 1855Z" fill="#7ea6e0"/><path d="M641 1838L656 1836V1846L641 1848Z" fill="#2e68c8"/><path d="M668 1834L686 1832V1842L668 1845Z" fill="#2e68c8"/><path d="M628.5 1796L693 1788.6C699 1789.4 701.4 1795 701.2 1801L698.6 1832.4L637 1845.6C626 1842 622 1806 628.5 1796Z" fill="url(#mb)"/><ellipse cx="632.2" cy="1820.5" rx="13.6" ry="25" fill="url(#mf)" transform="rotate(-6 632.2 1820.5)"/><path d="M640 1800.6L697 1793.4" stroke="#a8ccff" stroke-width="1.4" opacity=".75"/><path d="M645 1819.6L664 1816.8" stroke="#a8ccff" stroke-width="1.4" opacity=".75"/><path d="M643 1837.6L697 1828" stroke="#a8ccff" stroke-width="1.4" opacity=".75"/><path d="M658.8 1778V1805.6H673.5" stroke="#c4d622" stroke-width="3.2" fill="none"/><path d="M687.4 1777V1805" stroke="#18a83a" stroke-width="3.2" fill="none"/><path d="M714.6 1778V1804.2H700.5" stroke="#e2853a" stroke-width="2.4" fill="none"/><path d="M664.2 1807.6L706.6 1804.2L707.6 1830L670.2 1835.8Z" fill="#1e1e1e"/><path d="M664.2 1807.6L706.6 1804.2L706.7 1807.4L665 1811.2Z" fill="#4c4c4c"/><text x="674" y="1822.6" font-size="4.8" font-weight="bold" fill="#f0f0f0" font-family="'Liberation Sans','Noto Sans CJK SC',sans-serif">三相异步电机</text><path d="M619 1820C612 1812 600 1806 592.5 1808.5C588 1812 590 1826 593 1829.5C602 1830 612 1826 619 1824Z" fill="#ffbe10"/><path d="M620 1816C618 1808 622 1798.5 629 1797.5C636 1798 642 1803 641.8 1808C636 1810 628 1813 623 1819Z" fill="#ff9a12"/><path d="M621 1829C620 1838 622 1852 628 1857C633 1855 635.4 1848 634.4 1842C631 1838 627.6 1833 626 1828Z" fill="#f0e24c"/><circle cx="618.4" cy="1822.6" r="8.3" fill="#4c4ccc"/><circle cx="616.5" cy="1820.5" r="4.5" fill="#6a6ae0" opacity=".6"/><circle cx="658.8" cy="1774.2" r="6.3" fill="url(#t_ylg)"/><circle cx="658.8" cy="1774.2" r="3.1" fill="#161616"/><circle cx="687.2" cy="1773.3" r="6.3" fill="url(#t_green)"/><circle cx="687.2" cy="1773.3" r="3.1" fill="#161616"/><circle cx="714.2" cy="1774.2" r="6.3" fill="url(#t_orange)"/><circle cx="714.2" cy="1774.2" r="3.1" fill="#161616"/><text x="663.2" y="1788.4" font-size="7.6" fill="#b4b81c" font-weight="bold" text-anchor="middle" font-family="Liberation Sans, sans-serif" stroke="#4a4a08" stroke-width="1.5" stroke-linejoin="round" paint-order="stroke" letter-spacing="-0.2">U</text><text x="682.0" y="1787.8" font-size="7.6" fill="#18a83a" font-weight="bold" text-anchor="middle" font-family="Liberation Sans, sans-serif" stroke="#084a18" stroke-width="1.5" stroke-linejoin="round" paint-order="stroke" letter-spacing="-0.2">V</text><text x="708.0" y="1788.4" font-size="7.6" fill="#e2853a" font-weight="bold" text-anchor="middle" font-family="Liberation Sans, sans-serif" stroke="#5a2a08" stroke-width="1.5" stroke-linejoin="round" paint-order="stroke" letter-spacing="-0.2">W</text><g fill="none" stroke="#5c5c5c" stroke-width="2"><rect x="909.8" y="885.1" width="24.4" height="19.4" rx="3.6"/><path d="M914.7 885.1V879.9a7.3 7.3 0 0 1 14.6 0V885.1"/><path d="M922.0 892.3V896.7" stroke-linecap="round"/></g><circle cx="437.4" cy="901.6" r="8.0" fill="url(#t_lyellow)"/><circle cx="437.4" cy="901.6" r="3.8" fill="#161616"/><circle cx="468.1" cy="901.6" r="8.0" fill="url(#t_lgreen)"/><circle cx="468.1" cy="901.6" r="3.8" fill="#161616"/><circle cx="498.5" cy="901.6" r="8.0" fill="url(#t_dred)"/><circle cx="498.5" cy="901.6" r="3.8" fill="#161616"/><circle cx="904.7" cy="910.2" r="7.3" fill="url(#t_blue)"/><circle cx="904.7" cy="910.2" r="3.4" fill="#161616"/><text x="422.2" y="892.0" font-size="10.6" fill="#f4c000" font-weight="bold" text-anchor="start" font-family="Liberation Sans, sans-serif" >L1</text><text x="453.6" y="892.0" font-size="10.6" fill="#22cc44" font-weight="bold" text-anchor="start" font-family="Liberation Sans, sans-serif" >L2</text><text x="484.0" y="892.0" font-size="10.6" fill="#cf0a1e" font-weight="bold" text-anchor="start" font-family="Liberation Sans, sans-serif" >L3</text><text x="892.6" y="900.6" font-size="10.6" fill="#1a56e8" font-weight="bold" text-anchor="start" font-family="Liberation Sans, sans-serif" >N</text><text x="525.3" y="1000.7" font-size="16.4" fill="#151515" font-weight="normal" text-anchor="start" font-family="Liberation Sans, sans-serif" >QS</text><text x="717.5" y="1076.6" font-size="16.4" fill="#151515" font-weight="normal" text-anchor="start" font-family="Liberation Sans, sans-serif" >SB</text><text x="634.4" y="1221.4" font-size="16.4" fill="#151515" font-weight="normal" text-anchor="start" font-family="Liberation Sans, sans-serif" >SB1</text><text x="784.6" y="1214.6" font-size="16.4" fill="#151515" font-weight="normal" text-anchor="start" font-family="Liberation Sans, sans-serif" >SB2</text><text x="933.8" y="1008.8" font-size="16.4" fill="#151515" font-weight="normal" text-anchor="start" font-family="Liberation Sans, sans-serif" >QS1</text><text x="911.8" y="1191.6" font-size="16.4" fill="#151515" font-weight="normal" text-anchor="start" font-family="Liberation Sans, sans-serif" >FU1</text><text x="386.2" y="1208.3" font-size="16.4" fill="#151515" font-weight="normal" text-anchor="start" font-family="Liberation Sans, sans-serif" >FU</text><text x="563.5" y="1440.3" font-size="16.4" fill="#151515" font-weight="normal" text-anchor="start" font-family="Liberation Sans, sans-serif" >KM1</text><text x="773.0" y="1432.4" font-size="16.4" fill="#151515" font-weight="normal" text-anchor="start" font-family="Liberation Sans, sans-serif" >KM2</text><text x="750.8" y="1609.6" font-size="16.4" fill="#151515" font-weight="normal" text-anchor="start" font-family="Liberation Sans, sans-serif" >FR</text><text x="714.0" y="1864.3" font-size="16.4" fill="#151515" font-weight="normal" text-anchor="start" font-family="Liberation Sans, sans-serif" >M</text><text x="568.8" y="941.6" font-size="16.8" font-weight="500" fill="#222" font-family="'Liberation Sans','Noto Sans CJK SC',sans-serif">正转</text><text x="670.1" y="935.8" font-size="16.8" font-weight="500" fill="#222" font-family="'Liberation Sans','Noto Sans CJK SC',sans-serif">反转</text><text x="767.4" y="935.2" font-size="16.8" font-weight="500" fill="#222" font-family="'Liberation Sans','Noto Sans CJK SC',sans-serif">电源</text><path d="M437.8 901.6L438.2 968.5" fill="none" stroke="#ffc000" stroke-width="2.3" stroke-linejoin="miter" /><path d="M438.4 1077.3L438.7 1164.0L435.4 1164.0" fill="none" stroke="#ffc000" stroke-width="2.3" stroke-linejoin="miter" /><path d="M434.8 1258.2L435.2 1360.0L429.9 1360.0L429.9 1410.1L720.0 1410.1L720.0 1359.3L711.8 1359.3" fill="none" stroke="#ffc000" stroke-width="2.3" stroke-linejoin="miter" /><path d="M468.1 901.6L468.1 956.0L469.8 956.0L469.8 968.5" fill="none" stroke="#22cc44" stroke-width="2.3" stroke-linejoin="miter" /><path d="M469.8 1077.3L470.2 1160.5L464.3 1160.5L464.3 1164.0" fill="none" stroke="#22cc44" stroke-width="2.3" stroke-linejoin="miter" /><path d="M463.9 1258.2L463.9 1393.3L682.8 1393.3L682.8 1376.5L678.9 1376.5L678.2 1359.3" fill="none" stroke="#22cc44" stroke-width="2.3" stroke-linejoin="miter" /><path d="M498.5 901.6L496.8 901.6L496.8 959.0L502.0 959.0L502.0 968.5" fill="none" stroke="#cf0a1e" stroke-width="2.4" stroke-linejoin="miter" /><path d="M498.5 901.6L868.0 901.6L868.0 957.6L876.6 957.6" fill="none" stroke="#cf0a1e" stroke-width="2.4" stroke-linejoin="miter" /><path d="M501.9 1077.3L501.9 1163.6L492.5 1163.6" fill="none" stroke="#cf0a1e" stroke-width="2.4" stroke-linejoin="miter" /><path d="M494.0 1258.2L494.0 1353.0L498.0 1353.0L498.0 1377.8L652.6 1377.8L652.6 1358.2L644.0 1358.2" fill="none" stroke="#cf0a1e" stroke-width="2.4" stroke-linejoin="miter" /><path d="M767.3 1001.8L757.0 1004.0L757.0 1039.5L650.9 1039.5L650.9 1077.6L667.8 1077.6L667.8 1093.6" fill="none" stroke="#cf0a1e" stroke-width="2.4" stroke-linejoin="miter" /><path d="M668.3 1094.0L627.6 1094.0L627.6 1621.9L697.3 1621.9L697.3 1660.4L703.7 1660.4" fill="none" stroke="#cf0a1e" stroke-width="2.4" stroke-linejoin="miter" /><path d="M701.7 1093.6L701.7 1085.6L739.9 1085.6L739.9 1155.4L705.0 1155.4L705.0 1245.2L739.9 1245.2" fill="none" stroke="#cf0a1e" stroke-width="2.4" stroke-linejoin="miter" /><path d="M701.7 1093.6L719.6 1093.6L719.6 1145.3L558.4 1145.3L558.4 1250.4L579.1 1250.4L579.1 1245.7" fill="none" stroke="#cf0a1e" stroke-width="2.4" stroke-linejoin="miter" /><path d="M579.1 1245.7L579.1 1262.5L586.9 1262.5L586.9 1368.7L536.0 1368.7" fill="none" stroke="#cf0a1e" stroke-width="2.4" stroke-linejoin="miter" /><path d="M739.9 1245.7L739.9 1261.5L791.4 1261.5L791.4 1367.6L750.5 1367.6" fill="none" stroke="#cf0a1e" stroke-width="2.4" stroke-linejoin="miter" /><path d="M727.0 1660.4L733.3 1660.4L733.3 1646.0L866.3 1646.0L866.3 1234.0L863.9 1227.4" fill="none" stroke="#cf0a1e" stroke-width="2.4" stroke-linejoin="miter" /><path d="M877.5 1067.2L860.3 1067.2L860.3 1118.3L863.7 1118.3L863.7 1133.5" fill="none" stroke="#cf0a1e" stroke-width="2.4" stroke-linejoin="miter" /><path d="M904.7 910.2L904.7 949.0L908.8 949.0L908.8 958.2" fill="none" stroke="#1616ee" stroke-width="1.9" stroke-linejoin="miter" /><path d="M908.2 1067.2L908.2 1132.1L891.8 1132.1" fill="none" stroke="#1616ee" stroke-width="1.9" stroke-linejoin="miter" /><path d="M892.0 1228.3L894.9 1233.0L894.9 1321.5L660.4 1321.5L660.4 1340.0" fill="none" stroke="#1616ee" stroke-width="1.9" stroke-linejoin="miter" /><path d="M892.0 1228.3L899.8 1232.0L899.8 1293.2L843.5 1293.2L843.5 1002.0L804.0 1002.0" fill="none" stroke="#1616ee" stroke-width="1.9" stroke-linejoin="miter" /><path d="M601.7 1008.9L601.7 1024.7L708.0 1024.7L708.0 1001.9" fill="none" stroke="#1616ee" stroke-width="1.9" stroke-linejoin="miter" /><path d="M708.0 1018.7L804.0 1018.7L804.0 1002.1" fill="none" stroke="#1616ee" stroke-width="1.9" stroke-linejoin="miter" /><path d="M444.9 1340.7L444.9 1322.8L659.8 1322.8" fill="none" stroke="#1616ee" stroke-width="1.9" stroke-linejoin="miter" /><path d="M565.1 1008.9L530.9 1008.9L530.9 1282.0L512.0 1282.0L512.0 1341.0L509.9 1341.0" fill="none" stroke="#808080" stroke-width="2.2" stroke-linejoin="miter" /><path d="M670.6 1001.9L634.6 1001.9L634.6 1190.0L725.3 1190.0L725.3 1339.9" fill="none" stroke="#808080" stroke-width="2.2" stroke-linejoin="miter" /><path d="M613.9 1245.7L682.6 1245.7L682.6 1278.7L753.3 1278.7L753.3 1339.9" fill="none" stroke="#808080" stroke-width="2.2" stroke-linejoin="miter" /><path d="M774.1 1245.7L774.1 1253.5L779.3 1253.5L779.3 1306.7L593.9 1306.7L593.9 1340.4L537.6 1340.4" fill="none" stroke="#808080" stroke-width="2.2" stroke-linejoin="miter" /><path d="M536.1 1458.2L547.0 1458.2L547.0 1510.3L512.0 1510.3L512.0 1491.9" fill="none" stroke="#808080" stroke-width="2.2" stroke-linejoin="miter" /><path d="M537.6 1487.4L583.7 1487.4L583.7 1516.0L727.2 1516.0L727.2 1456.0L750.2 1456.0" fill="none" stroke="#808080" stroke-width="2.2" stroke-linejoin="miter" /><path d="M511.7 1491.9L511.7 1524.0L749.2 1524.0L749.2 1486.1L752.9 1486.1" fill="none" stroke="#808080" stroke-width="2.2" stroke-linejoin="miter" /><path d="M497.3 1470.7L497.3 1536.4L696.0 1536.4L696.0 1550.5L702.2 1550.5L702.2 1563.3" fill="none" stroke="#808080" stroke-width="2.2" stroke-linejoin="miter" /><path d="M463.2 1470.7L463.2 1542.0L675.6 1542.0L675.6 1563.3" fill="none" stroke="#808080" stroke-width="2.2" stroke-linejoin="miter" /><path d="M430.2 1470.7L430.2 1556.8L646.0 1556.8L646.0 1563.3L651.9 1563.3" fill="none" stroke="#808080" stroke-width="2.2" stroke-linejoin="miter" /><path d="M645.4 1469.0L645.9 1563.0" fill="none" stroke="#808080" stroke-width="2.2" stroke-linejoin="miter" /><path d="M678.2 1469.0L678.2 1563.3" fill="none" stroke="#808080" stroke-width="2.2" stroke-linejoin="miter" /><path d="M711.8 1469.0L711.9 1557.4L703.0 1557.4L702.2 1563.3" fill="none" stroke="#808080" stroke-width="2.2" stroke-linejoin="miter" /><path d="M662.2 1690.4L661.3 1774.2" fill="none" stroke="#808080" stroke-width="2.2" stroke-linejoin="miter" /><path d="M693.7 1690.4L693.7 1768.7L687.2 1768.7L687.2 1773.3" fill="none" stroke="#808080" stroke-width="2.2" stroke-linejoin="miter" /><path d="M726.3 1690.4L726.3 1765.8L712.5 1765.8L712.5 1774.2" fill="none" stroke="#808080" stroke-width="2.2" stroke-linejoin="miter" /></svg>
</div></div>
<svg width="1080" height="1920" viewBox="0 0 1080 1920" style="pointer-events:none"><defs><filter id="bsh" x="-10%" y="-20%" width="120%" height="150%"><feGaussianBlur stdDeviation="5"/></filter></defs><path d="M88 1556H368a33 33 0 0 1 33 33V1667.7H101a55 55 0 0 1 -55 -55V1598a42 42 0 0 1 42 -42Z" fill="#000" opacity=".35" filter="url(#bsh)" transform="translate(0,5)"/><path d="M88 1556H368a33 33 0 0 1 33 33V1667.7H101a55 55 0 0 1 -55 -55V1598a42 42 0 0 1 42 -42Z" fill="#04c49a"/><text x="81" y="1640" font-size="68" font-weight="bold" fill="#fff" font-family="'Liberation Sans','Noto Sans CJK SC',sans-serif">1:1</text><text x="195.3" y="1640" font-size="48.5" fill="#fff" font-family="'Liberation Sans','Noto Sans CJK SC',sans-serif">还原实物</text></svg>
<div id="fade" class="abs"></div><div id="strip" class="abs"></div>
</div></body></html>
